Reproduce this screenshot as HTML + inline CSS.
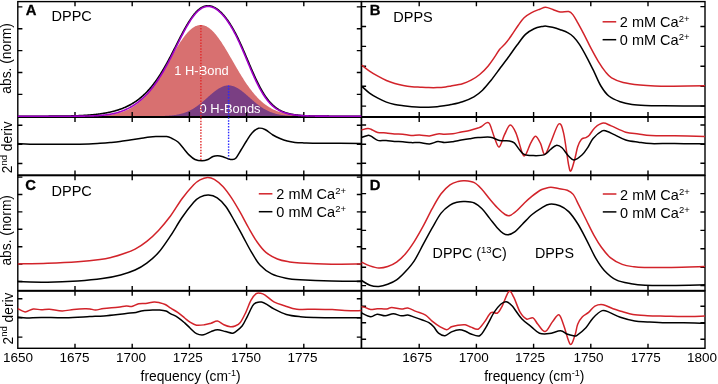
<!DOCTYPE html>
<html><head><meta charset="utf-8"><style>html,body{margin:0;padding:0;background:#fff;width:718px;height:384px;overflow:hidden}svg{display:block;will-change:transform}text{font-family:"Liberation Sans", sans-serif}</style></head>
<body><svg width="718" height="384" viewBox="0 0 718 384" ><path d="M17.80,116.20 L18.30,116.20 L18.80,116.20 L19.30,116.20 L19.80,116.20 L20.30,116.20 L20.80,116.20 L21.30,116.20 L21.80,116.20 L22.30,116.20 L22.80,116.20 L23.30,116.20 L23.80,116.20 L24.30,116.20 L24.80,116.20 L25.30,116.20 L25.80,116.20 L26.30,116.20 L26.80,116.20 L27.30,116.20 L27.80,116.20 L28.30,116.20 L28.80,116.20 L29.30,116.20 L29.80,116.20 L30.30,116.20 L30.80,116.20 L31.30,116.20 L31.80,116.20 L32.30,116.20 L32.80,116.20 L33.30,116.20 L33.80,116.20 L34.30,116.20 L34.80,116.20 L35.30,116.20 L35.80,116.20 L36.30,116.20 L36.80,116.20 L37.30,116.20 L37.80,116.20 L38.30,116.20 L38.80,116.20 L39.30,116.20 L39.80,116.20 L40.30,116.20 L40.80,116.20 L41.30,116.20 L41.80,116.20 L42.30,116.20 L42.80,116.20 L43.30,116.20 L43.80,116.20 L44.30,116.20 L44.80,116.20 L45.30,116.20 L45.80,116.20 L46.30,116.20 L46.80,116.20 L47.30,116.20 L47.80,116.20 L48.30,116.20 L48.80,116.20 L49.30,116.20 L49.80,116.20 L50.30,116.20 L50.80,116.20 L51.30,116.20 L51.80,116.20 L52.30,116.20 L52.80,116.20 L53.30,116.20 L53.80,116.20 L54.30,116.20 L54.80,116.20 L55.30,116.20 L55.80,116.20 L56.30,116.20 L56.80,116.20 L57.30,116.20 L57.80,116.20 L58.30,116.20 L58.80,116.20 L59.30,116.20 L59.80,116.20 L60.30,116.19 L60.80,116.19 L61.30,116.19 L61.80,116.19 L62.30,116.19 L62.80,116.19 L63.30,116.19 L63.80,116.19 L64.30,116.19 L64.80,116.19 L65.30,116.19 L65.80,116.19 L66.30,116.19 L66.80,116.19 L67.30,116.19 L67.80,116.19 L68.30,116.18 L68.80,116.18 L69.30,116.18 L69.80,116.18 L70.30,116.18 L70.80,116.18 L71.30,116.18 L71.80,116.18 L72.30,116.17 L72.80,116.17 L73.30,116.17 L73.80,116.17 L74.30,116.17 L74.80,116.16 L75.30,116.16 L75.80,116.16 L76.30,116.16 L76.80,116.15 L77.30,116.15 L77.80,116.15 L78.30,116.15 L78.80,116.14 L79.30,116.14 L79.80,116.13 L80.30,116.13 L80.80,116.13 L81.30,116.12 L81.80,116.12 L82.30,116.11 L82.80,116.11 L83.30,116.10 L83.80,116.10 L84.30,116.09 L84.80,116.08 L85.30,116.08 L85.80,116.07 L86.30,116.06 L86.80,116.05 L87.30,116.04 L87.80,116.03 L88.30,116.03 L88.80,116.02 L89.30,116.00 L89.80,115.99 L90.30,115.98 L90.80,115.97 L91.30,115.96 L91.80,115.94 L92.30,115.93 L92.80,115.91 L93.30,115.90 L93.80,115.88 L94.30,115.87 L94.80,115.85 L95.30,115.83 L95.80,115.81 L96.30,115.79 L96.80,115.77 L97.30,115.74 L97.80,115.72 L98.30,115.69 L98.80,115.67 L99.30,115.64 L99.80,115.61 L100.30,115.58 L100.80,115.55 L101.30,115.52 L101.80,115.48 L102.30,115.45 L102.80,115.41 L103.30,115.37 L103.80,115.33 L104.30,115.29 L104.80,115.24 L105.30,115.20 L105.80,115.15 L106.30,115.10 L106.80,115.04 L107.30,114.99 L107.80,114.93 L108.30,114.87 L108.80,114.81 L109.30,114.75 L109.80,114.68 L110.30,114.61 L110.80,114.54 L111.30,114.46 L111.80,114.38 L112.30,114.30 L112.80,114.22 L113.30,114.13 L113.80,114.04 L114.30,113.94 L114.80,113.85 L115.30,113.74 L115.80,113.64 L116.30,113.53 L116.80,113.41 L117.30,113.30 L117.80,113.18 L118.30,113.05 L118.80,112.92 L119.30,112.78 L119.80,112.64 L120.30,112.50 L120.80,112.35 L121.30,112.19 L121.80,112.03 L122.30,111.87 L122.80,111.70 L123.30,111.52 L123.80,111.34 L124.30,111.15 L124.80,110.96 L125.30,110.76 L125.80,110.55 L126.30,110.34 L126.80,110.12 L127.30,109.89 L127.80,109.66 L128.30,109.42 L128.80,109.17 L129.30,108.92 L129.80,108.66 L130.30,108.39 L130.80,108.11 L131.30,107.83 L131.80,107.54 L132.30,107.24 L132.80,106.93 L133.30,106.61 L133.80,106.29 L134.30,105.96 L134.80,105.62 L135.30,105.27 L135.80,104.91 L136.30,104.54 L136.80,104.17 L137.30,103.78 L137.80,103.39 L138.30,102.98 L138.80,102.57 L139.30,102.15 L139.80,101.71 L140.30,101.27 L140.80,100.82 L141.30,100.36 L141.80,99.89 L142.30,99.41 L142.80,98.92 L143.30,98.42 L143.80,97.91 L144.30,97.38 L144.80,96.85 L145.30,96.31 L145.80,95.76 L146.30,95.20 L146.80,94.63 L147.30,94.05 L147.80,93.46 L148.30,92.86 L148.80,92.25 L149.30,91.63 L149.80,91.00 L150.30,90.36 L150.80,89.71 L151.30,89.05 L151.80,88.38 L152.30,87.70 L152.80,87.01 L153.30,86.31 L153.80,85.61 L154.30,84.89 L154.80,84.17 L155.30,83.43 L155.80,82.69 L156.30,81.94 L156.80,81.18 L157.30,80.42 L157.80,79.64 L158.30,78.86 L158.80,78.08 L159.30,77.28 L159.80,76.48 L160.30,75.67 L160.80,74.86 L161.30,74.03 L161.80,73.21 L162.30,72.38 L162.80,71.54 L163.30,70.70 L163.80,69.85 L164.30,69.00 L164.80,68.15 L165.30,67.29 L165.80,66.43 L166.30,65.57 L166.80,64.71 L167.30,63.84 L167.80,62.97 L168.30,62.10 L168.80,61.23 L169.30,60.36 L169.80,59.49 L170.30,58.62 L170.80,57.76 L171.30,56.89 L171.80,56.03 L172.30,55.17 L172.80,54.31 L173.30,53.45 L173.80,52.60 L174.30,51.75 L174.80,50.91 L175.30,50.08 L175.80,49.24 L176.30,48.42 L176.80,47.60 L177.30,46.79 L177.80,45.99 L178.30,45.20 L178.80,44.41 L179.30,43.63 L179.80,42.87 L180.30,42.11 L180.80,41.37 L181.30,40.63 L181.80,39.91 L182.30,39.20 L182.80,38.50 L183.30,37.82 L183.80,37.14 L184.30,36.49 L184.80,35.84 L185.30,35.21 L185.80,34.60 L186.30,34.00 L186.80,33.42 L187.30,32.86 L187.80,32.31 L188.30,31.78 L188.80,31.27 L189.30,30.77 L189.80,30.30 L190.30,29.84 L190.80,29.40 L191.30,28.98 L191.80,28.58 L192.30,28.20 L192.80,27.84 L193.30,27.50 L193.80,27.18 L194.30,26.89 L194.80,26.61 L195.30,26.35 L195.80,26.12 L196.30,25.91 L196.80,25.72 L197.30,25.55 L197.80,25.40 L198.30,25.28 L198.80,25.18 L199.30,25.10 L199.80,25.05 L200.30,25.01 L200.80,25.00 L201.30,25.01 L201.80,25.05 L202.30,25.10 L202.80,25.18 L203.30,25.28 L203.80,25.40 L204.30,25.55 L204.80,25.72 L205.30,25.91 L205.80,26.12 L206.30,26.35 L206.80,26.61 L207.30,26.89 L207.80,27.18 L208.30,27.50 L208.80,27.84 L209.30,28.20 L209.80,28.58 L210.30,28.98 L210.80,29.40 L211.30,29.84 L211.80,30.30 L212.30,30.77 L212.80,31.27 L213.30,31.78 L213.80,32.31 L214.30,32.86 L214.80,33.42 L215.30,34.00 L215.80,34.60 L216.30,35.21 L216.80,35.84 L217.30,36.49 L217.80,37.14 L218.30,37.82 L218.80,38.50 L219.30,39.20 L219.80,39.91 L220.30,40.63 L220.80,41.37 L221.30,42.11 L221.80,42.87 L222.30,43.63 L222.80,44.41 L223.30,45.20 L223.80,45.99 L224.30,46.79 L224.80,47.60 L225.30,48.42 L225.80,49.24 L226.30,50.08 L226.80,50.91 L227.30,51.75 L227.80,52.60 L228.30,53.45 L228.80,54.31 L229.30,55.17 L229.80,56.03 L230.30,56.89 L230.80,57.76 L231.30,58.62 L231.80,59.49 L232.30,60.36 L232.80,61.23 L233.30,62.10 L233.80,62.97 L234.30,63.84 L234.80,64.71 L235.30,65.57 L235.80,66.43 L236.30,67.29 L236.80,68.15 L237.30,69.00 L237.80,69.85 L238.30,70.70 L238.80,71.54 L239.30,72.38 L239.80,73.21 L240.30,74.03 L240.80,74.86 L241.30,75.67 L241.80,76.48 L242.30,77.28 L242.80,78.08 L243.30,78.86 L243.80,79.64 L244.30,80.42 L244.80,81.18 L245.30,81.94 L245.80,82.69 L246.30,83.43 L246.80,84.17 L247.30,84.89 L247.80,85.61 L248.30,86.31 L248.80,87.01 L249.30,87.70 L249.80,88.38 L250.30,89.05 L250.80,89.71 L251.30,90.36 L251.80,91.00 L252.30,91.63 L252.80,92.25 L253.30,92.86 L253.80,93.46 L254.30,94.05 L254.80,94.63 L255.30,95.20 L255.80,95.76 L256.30,96.31 L256.80,96.85 L257.30,97.38 L257.80,97.91 L258.30,98.42 L258.80,98.92 L259.30,99.41 L259.80,99.89 L260.30,100.36 L260.80,100.82 L261.30,101.27 L261.80,101.71 L262.30,102.15 L262.80,102.57 L263.30,102.98 L263.80,103.39 L264.30,103.78 L264.80,104.17 L265.30,104.54 L265.80,104.91 L266.30,105.27 L266.80,105.62 L267.30,105.96 L267.80,106.29 L268.30,106.61 L268.80,106.93 L269.30,107.24 L269.80,107.54 L270.30,107.83 L270.80,108.11 L271.30,108.39 L271.80,108.66 L272.30,108.92 L272.80,109.17 L273.30,109.42 L273.80,109.66 L274.30,109.89 L274.80,110.12 L275.30,110.34 L275.80,110.55 L276.30,110.76 L276.80,110.96 L277.30,111.15 L277.80,111.34 L278.30,111.52 L278.80,111.70 L279.30,111.87 L279.80,112.03 L280.30,112.19 L280.80,112.35 L281.30,112.50 L281.80,112.64 L282.30,112.78 L282.80,112.92 L283.30,113.05 L283.80,113.18 L284.30,113.30 L284.80,113.41 L285.30,113.53 L285.80,113.64 L286.30,113.74 L286.80,113.85 L287.30,113.94 L287.80,114.04 L288.30,114.13 L288.80,114.22 L289.30,114.30 L289.80,114.38 L290.30,114.46 L290.80,114.54 L291.30,114.61 L291.80,114.68 L292.30,114.75 L292.80,114.81 L293.30,114.87 L293.80,114.93 L294.30,114.99 L294.80,115.04 L295.30,115.10 L295.80,115.15 L296.30,115.20 L296.80,115.24 L297.30,115.29 L297.80,115.33 L298.30,115.37 L298.80,115.41 L299.30,115.45 L299.80,115.48 L300.30,115.52 L300.80,115.55 L301.30,115.58 L301.80,115.61 L302.30,115.64 L302.80,115.67 L303.30,115.69 L303.80,115.72 L304.30,115.74 L304.80,115.77 L305.30,115.79 L305.80,115.81 L306.30,115.83 L306.80,115.85 L307.30,115.87 L307.80,115.88 L308.30,115.90 L308.80,115.91 L309.30,115.93 L309.80,115.94 L310.30,115.96 L310.80,115.97 L311.30,115.98 L311.80,115.99 L312.30,116.00 L312.80,116.02 L313.30,116.03 L313.80,116.03 L314.30,116.04 L314.80,116.05 L315.30,116.06 L315.80,116.07 L316.30,116.08 L316.80,116.08 L317.30,116.09 L317.80,116.10 L318.30,116.10 L318.80,116.11 L319.30,116.11 L319.80,116.12 L320.30,116.12 L320.80,116.13 L321.30,116.13 L321.80,116.13 L322.30,116.14 L322.80,116.14 L323.30,116.15 L323.80,116.15 L324.30,116.15 L324.80,116.15 L325.30,116.16 L325.80,116.16 L326.30,116.16 L326.80,116.16 L327.30,116.17 L327.80,116.17 L328.30,116.17 L328.80,116.17 L329.30,116.17 L329.80,116.18 L330.30,116.18 L330.80,116.18 L331.30,116.18 L331.80,116.18 L332.30,116.18 L332.80,116.18 L333.30,116.18 L333.80,116.19 L334.30,116.19 L334.80,116.19 L335.30,116.19 L335.80,116.19 L336.30,116.19 L336.80,116.19 L337.30,116.19 L337.80,116.19 L338.30,116.19 L338.80,116.19 L339.30,116.19 L339.80,116.19 L340.30,116.19 L340.80,116.19 L341.30,116.19 L341.80,116.20 L342.30,116.20 L342.80,116.20 L343.30,116.20 L343.80,116.20 L344.30,116.20 L344.80,116.20 L345.30,116.20 L345.80,116.20 L346.30,116.20 L346.80,116.20 L347.30,116.20 L347.80,116.20 L348.30,116.20 L348.80,116.20 L349.30,116.20 L349.80,116.20 L350.30,116.20 L350.80,116.20 L351.30,116.20 L351.80,116.20 L352.30,116.20 L352.80,116.20 L353.30,116.20 L353.80,116.20 L354.30,116.20 L354.80,116.20 L355.30,116.20 L355.80,116.20 L356.30,116.20 L356.80,116.20 L357.30,116.20 L357.80,116.20 L358.30,116.20 L358.80,116.20 L359.30,116.20 L359.80,116.20 L360.30,116.20 L360.80,116.20 L361.30,116.20 L361.4,116.2 L17.8,116.2 Z" fill="#d87070"/>
<path d="M17.80,116.20 L18.30,116.20 L18.80,116.20 L19.30,116.20 L19.80,116.20 L20.30,116.20 L20.80,116.20 L21.30,116.20 L21.80,116.20 L22.30,116.20 L22.80,116.20 L23.30,116.20 L23.80,116.20 L24.30,116.20 L24.80,116.20 L25.30,116.20 L25.80,116.20 L26.30,116.20 L26.80,116.20 L27.30,116.20 L27.80,116.20 L28.30,116.20 L28.80,116.20 L29.30,116.20 L29.80,116.20 L30.30,116.20 L30.80,116.20 L31.30,116.20 L31.80,116.20 L32.30,116.20 L32.80,116.20 L33.30,116.20 L33.80,116.20 L34.30,116.20 L34.80,116.20 L35.30,116.20 L35.80,116.20 L36.30,116.20 L36.80,116.20 L37.30,116.20 L37.80,116.20 L38.30,116.20 L38.80,116.20 L39.30,116.20 L39.80,116.20 L40.30,116.20 L40.80,116.20 L41.30,116.20 L41.80,116.20 L42.30,116.20 L42.80,116.20 L43.30,116.20 L43.80,116.20 L44.30,116.20 L44.80,116.20 L45.30,116.20 L45.80,116.20 L46.30,116.20 L46.80,116.20 L47.30,116.20 L47.80,116.20 L48.30,116.20 L48.80,116.20 L49.30,116.20 L49.80,116.20 L50.30,116.20 L50.80,116.20 L51.30,116.20 L51.80,116.20 L52.30,116.20 L52.80,116.20 L53.30,116.20 L53.80,116.20 L54.30,116.20 L54.80,116.20 L55.30,116.20 L55.80,116.20 L56.30,116.20 L56.80,116.20 L57.30,116.20 L57.80,116.20 L58.30,116.20 L58.80,116.20 L59.30,116.20 L59.80,116.20 L60.30,116.20 L60.80,116.20 L61.30,116.20 L61.80,116.20 L62.30,116.20 L62.80,116.20 L63.30,116.20 L63.80,116.20 L64.30,116.20 L64.80,116.20 L65.30,116.20 L65.80,116.20 L66.30,116.20 L66.80,116.20 L67.30,116.20 L67.80,116.20 L68.30,116.20 L68.80,116.20 L69.30,116.20 L69.80,116.20 L70.30,116.20 L70.80,116.20 L71.30,116.20 L71.80,116.20 L72.30,116.20 L72.80,116.20 L73.30,116.20 L73.80,116.20 L74.30,116.20 L74.80,116.20 L75.30,116.20 L75.80,116.20 L76.30,116.20 L76.80,116.20 L77.30,116.20 L77.80,116.20 L78.30,116.20 L78.80,116.20 L79.30,116.20 L79.80,116.20 L80.30,116.20 L80.80,116.20 L81.30,116.20 L81.80,116.20 L82.30,116.20 L82.80,116.20 L83.30,116.20 L83.80,116.20 L84.30,116.20 L84.80,116.20 L85.30,116.20 L85.80,116.20 L86.30,116.20 L86.80,116.20 L87.30,116.20 L87.80,116.20 L88.30,116.20 L88.80,116.20 L89.30,116.20 L89.80,116.20 L90.30,116.20 L90.80,116.20 L91.30,116.20 L91.80,116.20 L92.30,116.20 L92.80,116.20 L93.30,116.20 L93.80,116.20 L94.30,116.20 L94.80,116.20 L95.30,116.20 L95.80,116.20 L96.30,116.20 L96.80,116.20 L97.30,116.20 L97.80,116.20 L98.30,116.20 L98.80,116.20 L99.30,116.20 L99.80,116.20 L100.30,116.20 L100.80,116.20 L101.30,116.20 L101.80,116.20 L102.30,116.20 L102.80,116.20 L103.30,116.20 L103.80,116.20 L104.30,116.20 L104.80,116.20 L105.30,116.20 L105.80,116.20 L106.30,116.20 L106.80,116.20 L107.30,116.20 L107.80,116.20 L108.30,116.20 L108.80,116.20 L109.30,116.20 L109.80,116.20 L110.30,116.20 L110.80,116.20 L111.30,116.20 L111.80,116.20 L112.30,116.20 L112.80,116.20 L113.30,116.20 L113.80,116.20 L114.30,116.20 L114.80,116.20 L115.30,116.20 L115.80,116.20 L116.30,116.20 L116.80,116.20 L117.30,116.20 L117.80,116.20 L118.30,116.20 L118.80,116.20 L119.30,116.20 L119.80,116.20 L120.30,116.20 L120.80,116.20 L121.30,116.20 L121.80,116.20 L122.30,116.20 L122.80,116.20 L123.30,116.20 L123.80,116.20 L124.30,116.20 L124.80,116.20 L125.30,116.20 L125.80,116.20 L126.30,116.20 L126.80,116.20 L127.30,116.20 L127.80,116.20 L128.30,116.20 L128.80,116.20 L129.30,116.20 L129.80,116.20 L130.30,116.20 L130.80,116.20 L131.30,116.20 L131.80,116.20 L132.30,116.20 L132.80,116.20 L133.30,116.20 L133.80,116.20 L134.30,116.20 L134.80,116.20 L135.30,116.20 L135.80,116.20 L136.30,116.20 L136.80,116.20 L137.30,116.20 L137.80,116.20 L138.30,116.20 L138.80,116.20 L139.30,116.20 L139.80,116.20 L140.30,116.20 L140.80,116.19 L141.30,116.19 L141.80,116.19 L142.30,116.19 L142.80,116.19 L143.30,116.19 L143.80,116.19 L144.30,116.19 L144.80,116.19 L145.30,116.19 L145.80,116.19 L146.30,116.19 L146.80,116.18 L147.30,116.18 L147.80,116.18 L148.30,116.18 L148.80,116.18 L149.30,116.17 L149.80,116.17 L150.30,116.17 L150.80,116.17 L151.30,116.16 L151.80,116.16 L152.30,116.16 L152.80,116.15 L153.30,116.15 L153.80,116.14 L154.30,116.14 L154.80,116.13 L155.30,116.13 L155.80,116.12 L156.30,116.12 L156.80,116.11 L157.30,116.10 L157.80,116.09 L158.30,116.08 L158.80,116.08 L159.30,116.06 L159.80,116.05 L160.30,116.04 L160.80,116.03 L161.30,116.02 L161.80,116.00 L162.30,115.99 L162.80,115.97 L163.30,115.95 L163.80,115.93 L164.30,115.91 L164.80,115.89 L165.30,115.87 L165.80,115.84 L166.30,115.82 L166.80,115.79 L167.30,115.76 L167.80,115.73 L168.30,115.69 L168.80,115.66 L169.30,115.62 L169.80,115.58 L170.30,115.54 L170.80,115.49 L171.30,115.45 L171.80,115.40 L172.30,115.34 L172.80,115.29 L173.30,115.23 L173.80,115.16 L174.30,115.10 L174.80,115.03 L175.30,114.96 L175.80,114.88 L176.30,114.80 L176.80,114.71 L177.30,114.62 L177.80,114.53 L178.30,114.43 L178.80,114.33 L179.30,114.22 L179.80,114.11 L180.30,113.99 L180.80,113.87 L181.30,113.74 L181.80,113.60 L182.30,113.46 L182.80,113.31 L183.30,113.16 L183.80,113.00 L184.30,112.84 L184.80,112.67 L185.30,112.49 L185.80,112.30 L186.30,112.11 L186.80,111.91 L187.30,111.70 L187.80,111.49 L188.30,111.27 L188.80,111.04 L189.30,110.81 L189.80,110.56 L190.30,110.31 L190.80,110.05 L191.30,109.79 L191.80,109.51 L192.30,109.23 L192.80,108.94 L193.30,108.64 L193.80,108.34 L194.30,108.02 L194.80,107.70 L195.30,107.37 L195.80,107.04 L196.30,106.69 L196.80,106.34 L197.30,105.99 L197.80,105.62 L198.30,105.25 L198.80,104.87 L199.30,104.49 L199.80,104.09 L200.30,103.70 L200.80,103.30 L201.30,102.89 L201.80,102.47 L202.30,102.06 L202.80,101.63 L203.30,101.21 L203.80,100.78 L204.30,100.34 L204.80,99.91 L205.30,99.47 L205.80,99.03 L206.30,98.59 L206.80,98.14 L207.30,97.70 L207.80,97.25 L208.30,96.81 L208.80,96.36 L209.30,95.92 L209.80,95.48 L210.30,95.04 L210.80,94.61 L211.30,94.18 L211.80,93.75 L212.30,93.33 L212.80,92.91 L213.30,92.50 L213.80,92.09 L214.30,91.69 L214.80,91.30 L215.30,90.92 L215.80,90.55 L216.30,90.18 L216.80,89.83 L217.30,89.48 L217.80,89.15 L218.30,88.83 L218.80,88.52 L219.30,88.22 L219.80,87.93 L220.30,87.66 L220.80,87.40 L221.30,87.16 L221.80,86.93 L222.30,86.71 L222.80,86.51 L223.30,86.33 L223.80,86.16 L224.30,86.01 L224.80,85.87 L225.30,85.76 L225.80,85.65 L226.30,85.57 L226.80,85.50 L227.30,85.45 L227.80,85.42 L228.30,85.40 L228.80,85.40 L229.30,85.42 L229.80,85.46 L230.30,85.51 L230.80,85.58 L231.30,85.67 L231.80,85.78 L232.30,85.90 L232.80,86.04 L233.30,86.19 L233.80,86.37 L234.30,86.55 L234.80,86.76 L235.30,86.97 L235.80,87.21 L236.30,87.45 L236.80,87.71 L237.30,87.99 L237.80,88.28 L238.30,88.58 L238.80,88.89 L239.30,89.22 L239.80,89.55 L240.30,89.90 L240.80,90.25 L241.30,90.62 L241.80,91.00 L242.30,91.38 L242.80,91.77 L243.30,92.17 L243.80,92.58 L244.30,92.99 L244.80,93.41 L245.30,93.83 L245.80,94.26 L246.30,94.69 L246.80,95.13 L247.30,95.57 L247.80,96.01 L248.30,96.45 L248.80,96.90 L249.30,97.34 L249.80,97.79 L250.30,98.23 L250.80,98.67 L251.30,99.12 L251.80,99.56 L252.30,100.00 L252.80,100.43 L253.30,100.86 L253.80,101.29 L254.30,101.72 L254.80,102.14 L255.30,102.56 L255.80,102.97 L256.30,103.38 L256.80,103.78 L257.30,104.17 L257.80,104.56 L258.30,104.95 L258.80,105.32 L259.30,105.69 L259.80,106.06 L260.30,106.41 L260.80,106.76 L261.30,107.10 L261.80,107.44 L262.30,107.77 L262.80,108.09 L263.30,108.40 L263.80,108.70 L264.30,109.00 L264.80,109.29 L265.30,109.57 L265.80,109.84 L266.30,110.10 L266.80,110.36 L267.30,110.61 L267.80,110.85 L268.30,111.09 L268.80,111.32 L269.30,111.53 L269.80,111.75 L270.30,111.95 L270.80,112.15 L271.30,112.34 L271.80,112.52 L272.30,112.70 L272.80,112.87 L273.30,113.04 L273.80,113.19 L274.30,113.34 L274.80,113.49 L275.30,113.63 L275.80,113.76 L276.30,113.89 L276.80,114.01 L277.30,114.13 L277.80,114.24 L278.30,114.35 L278.80,114.45 L279.30,114.55 L279.80,114.64 L280.30,114.73 L280.80,114.81 L281.30,114.89 L281.80,114.97 L282.30,115.04 L282.80,115.11 L283.30,115.18 L283.80,115.24 L284.30,115.30 L284.80,115.35 L285.30,115.41 L285.80,115.46 L286.30,115.50 L286.80,115.55 L287.30,115.59 L287.80,115.63 L288.30,115.67 L288.80,115.70 L289.30,115.73 L289.80,115.77 L290.30,115.79 L290.80,115.82 L291.30,115.85 L291.80,115.87 L292.30,115.90 L292.80,115.92 L293.30,115.94 L293.80,115.96 L294.30,115.97 L294.80,115.99 L295.30,116.00 L295.80,116.02 L296.30,116.03 L296.80,116.04 L297.30,116.06 L297.80,116.07 L298.30,116.08 L298.80,116.09 L299.30,116.10 L299.80,116.10 L300.30,116.11 L300.80,116.12 L301.30,116.12 L301.80,116.13 L302.30,116.14 L302.80,116.14 L303.30,116.15 L303.80,116.15 L304.30,116.15 L304.80,116.16 L305.30,116.16 L305.80,116.16 L306.30,116.17 L306.80,116.17 L307.30,116.17 L307.80,116.18 L308.30,116.18 L308.80,116.18 L309.30,116.18 L309.80,116.18 L310.30,116.18 L310.80,116.19 L311.30,116.19 L311.80,116.19 L312.30,116.19 L312.80,116.19 L313.30,116.19 L313.80,116.19 L314.30,116.19 L314.80,116.19 L315.30,116.19 L315.80,116.19 L316.30,116.20 L316.80,116.20 L317.30,116.20 L317.80,116.20 L318.30,116.20 L318.80,116.20 L319.30,116.20 L319.80,116.20 L320.30,116.20 L320.80,116.20 L321.30,116.20 L321.80,116.20 L322.30,116.20 L322.80,116.20 L323.30,116.20 L323.80,116.20 L324.30,116.20 L324.80,116.20 L325.30,116.20 L325.80,116.20 L326.30,116.20 L326.80,116.20 L327.30,116.20 L327.80,116.20 L328.30,116.20 L328.80,116.20 L329.30,116.20 L329.80,116.20 L330.30,116.20 L330.80,116.20 L331.30,116.20 L331.80,116.20 L332.30,116.20 L332.80,116.20 L333.30,116.20 L333.80,116.20 L334.30,116.20 L334.80,116.20 L335.30,116.20 L335.80,116.20 L336.30,116.20 L336.80,116.20 L337.30,116.20 L337.80,116.20 L338.30,116.20 L338.80,116.20 L339.30,116.20 L339.80,116.20 L340.30,116.20 L340.80,116.20 L341.30,116.20 L341.80,116.20 L342.30,116.20 L342.80,116.20 L343.30,116.20 L343.80,116.20 L344.30,116.20 L344.80,116.20 L345.30,116.20 L345.80,116.20 L346.30,116.20 L346.80,116.20 L347.30,116.20 L347.80,116.20 L348.30,116.20 L348.80,116.20 L349.30,116.20 L349.80,116.20 L350.30,116.20 L350.80,116.20 L351.30,116.20 L351.80,116.20 L352.30,116.20 L352.80,116.20 L353.30,116.20 L353.80,116.20 L354.30,116.20 L354.80,116.20 L355.30,116.20 L355.80,116.20 L356.30,116.20 L356.80,116.20 L357.30,116.20 L357.80,116.20 L358.30,116.20 L358.80,116.20 L359.30,116.20 L359.80,116.20 L360.30,116.20 L360.80,116.20 L361.30,116.20 L361.4,116.2 L17.8,116.2 Z" fill="#7a3f83"/>
<rect x="17.8" y="1.6" width="343.59999999999997" height="115.10000000000001" fill="none" stroke="#000" stroke-width="1.4"/><path d="M17.8,6.90h4.6M361.4,6.90h-4.6M17.8,28.78h4.6M361.4,28.78h-4.6M17.8,50.66h4.6M361.4,50.66h-4.6M17.8,72.54h4.6M361.4,72.54h-4.6M17.8,94.42h4.6M361.4,94.42h-4.6M75.00,1.6v4.6M75.00,116.7v-4.6M132.20,1.6v4.6M132.20,116.7v-4.6M189.40,1.6v4.6M189.40,116.7v-4.6M246.60,1.6v4.6M246.60,116.7v-4.6M303.80,1.6v4.6M303.80,116.7v-4.6" stroke="#000" stroke-width="1.4" fill="none"/>
<rect x="17.8" y="117.3" width="343.59999999999997" height="57.7" fill="none" stroke="#000" stroke-width="1.4"/><path d="M17.8,125.20h4.6M361.4,125.20h-4.6M17.8,144.30h4.6M361.4,144.30h-4.6M17.8,163.50h4.6M361.4,163.50h-4.6M75.00,117.3v4.6M75.00,175.0v-4.6M132.20,117.3v4.6M132.20,175.0v-4.6M189.40,117.3v4.6M189.40,175.0v-4.6M246.60,117.3v4.6M246.60,175.0v-4.6M303.80,117.3v4.6M303.80,175.0v-4.6" stroke="#000" stroke-width="1.4" fill="none"/>
<rect x="361.5" y="1.6" width="343.5" height="115.10000000000001" fill="none" stroke="#000" stroke-width="1.4"/><path d="M361.5,6.60h4.6M705.0,6.60h-4.6M361.5,26.50h4.6M705.0,26.50h-4.6M361.5,46.40h4.6M705.0,46.40h-4.6M361.5,66.30h4.6M705.0,66.30h-4.6M361.5,86.20h4.6M705.0,86.20h-4.6M361.5,106.10h4.6M705.0,106.10h-4.6M419.20,1.6v4.6M419.20,116.7v-4.6M476.40,1.6v4.6M476.40,116.7v-4.6M533.60,1.6v4.6M533.60,116.7v-4.6M590.80,1.6v4.6M590.80,116.7v-4.6M648.00,1.6v4.6M648.00,116.7v-4.6" stroke="#000" stroke-width="1.4" fill="none"/>
<rect x="361.5" y="117.3" width="343.5" height="57.7" fill="none" stroke="#000" stroke-width="1.4"/><path d="M361.5,125.00h4.6M705.0,125.00h-4.6M361.5,144.20h4.6M705.0,144.20h-4.6M361.5,163.30h4.6M705.0,163.30h-4.6M419.20,117.3v4.6M419.20,175.0v-4.6M476.40,117.3v4.6M476.40,175.0v-4.6M533.60,117.3v4.6M533.60,175.0v-4.6M590.80,117.3v4.6M590.80,175.0v-4.6M648.00,117.3v4.6M648.00,175.0v-4.6" stroke="#000" stroke-width="1.4" fill="none"/>
<rect x="17.8" y="175.6" width="343.59999999999997" height="114.9" fill="none" stroke="#000" stroke-width="1.4"/><path d="M17.8,177.10h4.6M361.4,177.10h-4.6M17.8,194.50h4.6M361.4,194.50h-4.6M17.8,211.90h4.6M361.4,211.90h-4.6M17.8,229.30h4.6M361.4,229.30h-4.6M17.8,246.70h4.6M361.4,246.70h-4.6M17.8,264.10h4.6M361.4,264.10h-4.6M17.8,281.50h4.6M361.4,281.50h-4.6M75.00,175.6v4.6M75.00,290.5v-4.6M132.20,175.6v4.6M132.20,290.5v-4.6M189.40,175.6v4.6M189.40,290.5v-4.6M246.60,175.6v4.6M246.60,290.5v-4.6M303.80,175.6v4.6M303.80,290.5v-4.6" stroke="#000" stroke-width="1.4" fill="none"/>
<rect x="17.8" y="291.1" width="343.59999999999997" height="57.19999999999999" fill="none" stroke="#000" stroke-width="1.4"/><path d="M17.8,298.70h4.6M361.4,298.70h-4.6M17.8,317.90h4.6M361.4,317.90h-4.6M17.8,337.10h4.6M361.4,337.10h-4.6M75.00,291.1v4.6M75.00,348.3v-4.6M132.20,291.1v4.6M132.20,348.3v-4.6M189.40,291.1v4.6M189.40,348.3v-4.6M246.60,291.1v4.6M246.60,348.3v-4.6M303.80,291.1v4.6M303.80,348.3v-4.6" stroke="#000" stroke-width="1.4" fill="none"/>
<rect x="361.5" y="175.6" width="343.5" height="114.9" fill="none" stroke="#000" stroke-width="1.4"/><path d="M361.5,193.60h4.6M705.0,193.60h-4.6M361.5,212.00h4.6M705.0,212.00h-4.6M361.5,230.40h4.6M705.0,230.40h-4.6M361.5,248.80h4.6M705.0,248.80h-4.6M361.5,267.20h4.6M705.0,267.20h-4.6M361.5,285.60h4.6M705.0,285.60h-4.6M419.20,175.6v4.6M419.20,290.5v-4.6M476.40,175.6v4.6M476.40,290.5v-4.6M533.60,175.6v4.6M533.60,290.5v-4.6M590.80,175.6v4.6M590.80,290.5v-4.6M648.00,175.6v4.6M648.00,290.5v-4.6" stroke="#000" stroke-width="1.4" fill="none"/>
<rect x="361.5" y="291.1" width="343.5" height="57.19999999999999" fill="none" stroke="#000" stroke-width="1.4"/><path d="M361.5,306.20h4.6M705.0,306.20h-4.6M361.5,322.70h4.6M705.0,322.70h-4.6M361.5,339.20h4.6M705.0,339.20h-4.6M419.20,291.1v4.6M419.20,348.3v-4.6M476.40,291.1v4.6M476.40,348.3v-4.6M533.60,291.1v4.6M533.60,348.3v-4.6M590.80,291.1v4.6M590.80,348.3v-4.6M648.00,291.1v4.6M648.00,348.3v-4.6" stroke="#000" stroke-width="1.4" fill="none"/>
<path d="M17.80,116.20 L18.30,116.20 L18.80,116.20 L19.30,116.20 L19.80,116.20 L20.30,116.20 L20.80,116.20 L21.30,116.20 L21.80,116.20 L22.30,116.20 L22.80,116.20 L23.30,116.20 L23.80,116.20 L24.30,116.20 L24.80,116.20 L25.30,116.20 L25.80,116.20 L26.30,116.20 L26.80,116.20 L27.30,116.20 L27.80,116.20 L28.30,116.20 L28.80,116.20 L29.30,116.20 L29.80,116.20 L30.30,116.20 L30.80,116.20 L31.30,116.20 L31.80,116.20 L32.30,116.20 L32.80,116.20 L33.30,116.20 L33.80,116.20 L34.30,116.20 L34.80,116.20 L35.30,116.20 L35.80,116.20 L36.30,116.20 L36.80,116.20 L37.30,116.19 L37.80,116.19 L38.30,116.19 L38.80,116.19 L39.30,116.19 L39.80,116.19 L40.30,116.19 L40.80,116.19 L41.30,116.19 L41.80,116.19 L42.30,116.19 L42.80,116.19 L43.30,116.19 L43.80,116.19 L44.30,116.19 L44.80,116.18 L45.30,116.18 L45.80,116.18 L46.30,116.18 L46.80,116.18 L47.30,116.18 L47.80,116.18 L48.30,116.18 L48.80,116.17 L49.30,116.17 L49.80,116.17 L50.30,116.17 L50.80,116.17 L51.30,116.17 L51.80,116.16 L52.30,116.16 L52.80,116.16 L53.30,116.16 L53.80,116.15 L54.30,116.15 L54.80,116.15 L55.30,116.15 L55.80,116.14 L56.30,116.14 L56.80,116.14 L57.30,116.13 L57.80,116.13 L58.30,116.12 L58.80,116.12 L59.30,116.11 L59.80,116.11 L60.30,116.11 L60.80,116.10 L61.30,116.09 L61.80,116.09 L62.30,116.08 L62.80,116.08 L63.30,116.07 L63.80,116.06 L64.30,116.06 L64.80,116.05 L65.30,116.04 L65.80,116.03 L66.30,116.03 L66.80,116.02 L67.30,116.01 L67.80,116.00 L68.30,115.99 L68.80,115.98 L69.30,115.97 L69.80,115.96 L70.30,115.94 L70.80,115.93 L71.30,115.92 L71.80,115.91 L72.30,115.89 L72.80,115.88 L73.30,115.87 L73.80,115.85 L74.30,115.84 L74.80,115.82 L75.30,115.80 L75.80,115.79 L76.30,115.77 L76.80,115.75 L77.30,115.73 L77.80,115.71 L78.30,115.69 L78.80,115.67 L79.30,115.65 L79.80,115.63 L80.30,115.60 L80.80,115.58 L81.30,115.56 L81.80,115.53 L82.30,115.50 L82.80,115.48 L83.30,115.45 L83.80,115.42 L84.30,115.39 L84.80,115.36 L85.30,115.33 L85.80,115.30 L86.30,115.27 L86.80,115.23 L87.30,115.20 L87.80,115.16 L88.30,115.12 L88.80,115.09 L89.30,115.05 L89.80,115.01 L90.30,114.96 L90.80,114.92 L91.30,114.88 L91.80,114.83 L92.30,114.79 L92.80,114.74 L93.30,114.69 L93.80,114.64 L94.30,114.59 L94.80,114.54 L95.30,114.49 L95.80,114.43 L96.30,114.37 L96.80,114.32 L97.30,114.26 L97.80,114.19 L98.30,114.13 L98.80,114.07 L99.30,114.00 L99.80,113.93 L100.30,113.86 L100.80,113.79 L101.30,113.72 L101.80,113.65 L102.30,113.57 L102.80,113.49 L103.30,113.41 L103.80,113.33 L104.30,113.24 L104.80,113.16 L105.30,113.07 L105.80,112.98 L106.30,112.89 L106.80,112.79 L107.30,112.69 L107.80,112.59 L108.30,112.49 L108.80,112.39 L109.30,112.28 L109.80,112.17 L110.30,112.06 L110.80,111.95 L111.30,111.83 L111.80,111.71 L112.30,111.58 L112.80,111.46 L113.30,111.33 L113.80,111.20 L114.30,111.06 L114.80,110.92 L115.30,110.78 L115.80,110.64 L116.30,110.49 L116.80,110.34 L117.30,110.19 L117.80,110.03 L118.30,109.87 L118.80,109.70 L119.30,109.53 L119.80,109.36 L120.30,109.18 L120.80,109.00 L121.30,108.82 L121.80,108.63 L122.30,108.43 L122.80,108.24 L123.30,108.03 L123.80,107.83 L124.30,107.62 L124.80,107.40 L125.30,107.18 L125.80,106.96 L126.30,106.73 L126.80,106.50 L127.30,106.26 L127.80,106.01 L128.30,105.76 L128.80,105.51 L129.30,105.25 L129.80,104.98 L130.30,104.71 L130.80,104.43 L131.30,104.15 L131.80,103.86 L132.30,103.57 L132.80,103.27 L133.30,102.96 L133.80,102.65 L134.30,102.33 L134.80,102.01 L135.30,101.67 L135.80,101.34 L136.30,100.99 L136.80,100.64 L137.30,100.28 L137.80,99.91 L138.30,99.54 L138.80,99.16 L139.30,98.77 L139.80,98.37 L140.30,97.97 L140.80,97.56 L141.30,97.14 L141.80,96.71 L142.30,96.27 L142.80,95.83 L143.30,95.38 L143.80,94.92 L144.30,94.45 L144.80,93.97 L145.30,93.48 L145.80,92.99 L146.30,92.48 L146.80,91.97 L147.30,91.45 L147.80,90.91 L148.30,90.37 L148.80,89.82 L149.30,89.26 L149.80,88.69 L150.30,88.11 L150.80,87.51 L151.30,86.91 L151.80,86.30 L152.30,85.68 L152.80,85.05 L153.30,84.41 L153.80,83.76 L154.30,83.10 L154.80,82.42 L155.30,81.74 L155.80,81.05 L156.30,80.34 L156.80,79.63 L157.30,78.91 L157.80,78.17 L158.30,77.43 L158.80,76.67 L159.30,75.91 L159.80,75.13 L160.30,74.35 L160.80,73.55 L161.30,72.74 L161.80,71.93 L162.30,71.10 L162.80,70.27 L163.30,69.43 L163.80,68.57 L164.30,67.71 L164.80,66.84 L165.30,65.96 L165.80,65.07 L166.30,64.18 L166.80,63.27 L167.30,62.36 L167.80,61.44 L168.30,60.52 L168.80,59.58 L169.30,58.64 L169.80,57.70 L170.30,56.75 L170.80,55.79 L171.30,54.83 L171.80,53.86 L172.30,52.89 L172.80,51.92 L173.30,50.94 L173.80,49.96 L174.30,48.98 L174.80,48.00 L175.30,47.01 L175.80,46.02 L176.30,45.04 L176.80,44.05 L177.30,43.06 L177.80,42.08 L178.30,41.10 L178.80,40.12 L179.30,39.14 L179.80,38.16 L180.30,37.19 L180.80,36.23 L181.30,35.27 L181.80,34.31 L182.30,33.37 L182.80,32.43 L183.30,31.49 L183.80,30.57 L184.30,29.65 L184.80,28.75 L185.30,27.85 L185.80,26.97 L186.30,26.09 L186.80,25.23 L187.30,24.38 L187.80,23.55 L188.30,22.73 L188.80,21.92 L189.30,21.13 L189.80,20.35 L190.30,19.59 L190.80,18.84 L191.30,18.11 L191.80,17.40 L192.30,16.71 L192.80,16.04 L193.30,15.38 L193.80,14.74 L194.30,14.13 L194.80,13.53 L195.30,12.95 L195.80,12.40 L196.30,11.86 L196.80,11.35 L197.30,10.86 L197.80,10.39 L198.30,9.94 L198.80,9.51 L199.30,9.11 L199.80,8.73 L200.30,8.37 L200.80,8.03 L201.30,7.72 L201.80,7.43 L202.30,7.17 L202.80,6.92 L203.30,6.70 L203.80,6.50 L204.30,6.33 L204.80,6.18 L205.30,6.05 L205.80,5.94 L206.30,5.86 L206.80,5.79 L207.30,5.75 L207.80,5.73 L208.30,5.74 L208.80,5.76 L209.30,5.81 L209.80,5.88 L210.30,5.96 L210.80,6.07 L211.30,6.20 L211.80,6.35 L212.30,6.52 L212.80,6.71 L213.30,6.92 L213.80,7.14 L214.30,7.39 L214.80,7.65 L215.30,7.94 L215.80,8.24 L216.30,8.55 L216.80,8.89 L217.30,9.25 L217.80,9.62 L218.30,10.00 L218.80,10.41 L219.30,10.83 L219.80,11.27 L220.30,11.73 L220.80,12.20 L221.30,12.69 L221.80,13.19 L222.30,13.71 L222.80,14.25 L223.30,14.80 L223.80,15.37 L224.30,15.96 L224.80,16.56 L225.30,17.18 L225.80,17.82 L226.30,18.47 L226.80,19.13 L227.30,19.82 L227.80,20.52 L228.30,21.23 L228.80,21.97 L229.30,22.72 L229.80,23.48 L230.30,24.26 L230.80,25.06 L231.30,25.88 L231.80,26.71 L232.30,27.56 L232.80,28.42 L233.30,29.30 L233.80,30.20 L234.30,31.11 L234.80,32.04 L235.30,32.98 L235.80,33.94 L236.30,34.92 L236.80,35.91 L237.30,36.91 L237.80,37.93 L238.30,38.97 L238.80,40.01 L239.30,41.07 L239.80,42.14 L240.30,43.23 L240.80,44.32 L241.30,45.43 L241.80,46.55 L242.30,47.67 L242.80,48.81 L243.30,49.95 L243.80,51.10 L244.30,52.26 L244.80,53.42 L245.30,54.59 L245.80,55.77 L246.30,56.94 L246.80,58.12 L247.30,59.30 L247.80,60.49 L248.30,61.67 L248.80,62.85 L249.30,64.03 L249.80,65.20 L250.30,66.38 L250.80,67.54 L251.30,68.71 L251.80,69.86 L252.30,71.01 L252.80,72.15 L253.30,73.28 L253.80,74.41 L254.30,75.52 L254.80,76.62 L255.30,77.71 L255.80,78.78 L256.30,79.84 L256.80,80.89 L257.30,81.93 L257.80,82.95 L258.30,83.95 L258.80,84.93 L259.30,85.90 L259.80,86.86 L260.30,87.79 L260.80,88.71 L261.30,89.61 L261.80,90.49 L262.30,91.35 L262.80,92.20 L263.30,93.02 L263.80,93.83 L264.30,94.61 L264.80,95.38 L265.30,96.12 L265.80,96.85 L266.30,97.56 L266.80,98.25 L267.30,98.92 L267.80,99.57 L268.30,100.20 L268.80,100.82 L269.30,101.41 L269.80,101.99 L270.30,102.55 L270.80,103.09 L271.30,103.61 L271.80,104.12 L272.30,104.61 L272.80,105.08 L273.30,105.54 L273.80,105.98 L274.30,106.40 L274.80,106.81 L275.30,107.21 L275.80,107.59 L276.30,107.96 L276.80,108.31 L277.30,108.65 L277.80,108.98 L278.30,109.29 L278.80,109.60 L279.30,109.89 L279.80,110.16 L280.30,110.43 L280.80,110.69 L281.30,110.94 L281.80,111.17 L282.30,111.40 L282.80,111.62 L283.30,111.83 L283.80,112.03 L284.30,112.22 L284.80,112.40 L285.30,112.58 L285.80,112.74 L286.30,112.91 L286.80,113.06 L287.30,113.21 L287.80,113.35 L288.30,113.48 L288.80,113.61 L289.30,113.73 L289.80,113.85 L290.30,113.97 L290.80,114.07 L291.30,114.18 L291.80,114.27 L292.30,114.37 L292.80,114.46 L293.30,114.54 L293.80,114.62 L294.30,114.70 L294.80,114.78 L295.30,114.85 L295.80,114.91 L296.30,114.98 L296.80,115.04 L297.30,115.10 L297.80,115.15 L298.30,115.21 L298.80,115.26 L299.30,115.31 L299.80,115.35 L300.30,115.40 L300.80,115.44 L301.30,115.48 L301.80,115.51 L302.30,115.55 L302.80,115.58 L303.30,115.62 L303.80,115.65 L304.30,115.68 L304.80,115.71 L305.30,115.73 L305.80,115.76 L306.30,115.78 L306.80,115.80 L307.30,115.83 L307.80,115.85 L308.30,115.87 L308.80,115.88 L309.30,115.90 L309.80,115.92 L310.30,115.93 L310.80,115.95 L311.30,115.96 L311.80,115.98 L312.30,115.99 L312.80,116.00 L313.30,116.01 L313.80,116.02 L314.30,116.03 L314.80,116.04 L315.30,116.05 L315.80,116.06 L316.30,116.07 L316.80,116.08 L317.30,116.08 L317.80,116.09 L318.30,116.10 L318.80,116.10 L319.30,116.11 L319.80,116.12 L320.30,116.12 L320.80,116.13 L321.30,116.13 L321.80,116.13 L322.30,116.14 L322.80,116.14 L323.30,116.15 L323.80,116.15 L324.30,116.15 L324.80,116.16 L325.30,116.16 L325.80,116.16 L326.30,116.16 L326.80,116.17 L327.30,116.17 L327.80,116.17 L328.30,116.17 L328.80,116.17 L329.30,116.18 L329.80,116.18 L330.30,116.18 L330.80,116.18 L331.30,116.18 L331.80,116.18 L332.30,116.18 L332.80,116.18 L333.30,116.19 L333.80,116.19 L334.30,116.19 L334.80,116.19 L335.30,116.19 L335.80,116.19 L336.30,116.19 L336.80,116.19 L337.30,116.19 L337.80,116.19 L338.30,116.19 L338.80,116.19 L339.30,116.19 L339.80,116.19 L340.30,116.19 L340.80,116.20 L341.30,116.20 L341.80,116.20 L342.30,116.20 L342.80,116.20 L343.30,116.20 L343.80,116.20 L344.30,116.20 L344.80,116.20 L345.30,116.20 L345.80,116.20 L346.30,116.20 L346.80,116.20 L347.30,116.20 L347.80,116.20 L348.30,116.20 L348.80,116.20 L349.30,116.20 L349.80,116.20 L350.30,116.20 L350.80,116.20 L351.30,116.20 L351.80,116.20 L352.30,116.20 L352.80,116.20 L353.30,116.20 L353.80,116.20 L354.30,116.20 L354.80,116.20 L355.30,116.20 L355.80,116.20 L356.30,116.20 L356.80,116.20 L357.30,116.20 L357.80,116.20 L358.30,116.20 L358.80,116.20 L359.30,116.20 L359.80,116.20 L360.30,116.20 L360.80,116.20 L361.30,116.20" fill="none" stroke="#000" stroke-width="1.6"/>
<path d="M17.80,116.20 L18.30,116.20 L18.80,116.20 L19.30,116.20 L19.80,116.20 L20.30,116.20 L20.80,116.20 L21.30,116.20 L21.80,116.20 L22.30,116.20 L22.80,116.20 L23.30,116.20 L23.80,116.20 L24.30,116.20 L24.80,116.20 L25.30,116.20 L25.80,116.20 L26.30,116.20 L26.80,116.20 L27.30,116.20 L27.80,116.20 L28.30,116.20 L28.80,116.20 L29.30,116.20 L29.80,116.20 L30.30,116.20 L30.80,116.20 L31.30,116.20 L31.80,116.20 L32.30,116.20 L32.80,116.20 L33.30,116.20 L33.80,116.20 L34.30,116.20 L34.80,116.20 L35.30,116.20 L35.80,116.20 L36.30,116.20 L36.80,116.20 L37.30,116.20 L37.80,116.20 L38.30,116.20 L38.80,116.20 L39.30,116.20 L39.80,116.20 L40.30,116.20 L40.80,116.20 L41.30,116.20 L41.80,116.20 L42.30,116.20 L42.80,116.20 L43.30,116.20 L43.80,116.20 L44.30,116.20 L44.80,116.20 L45.30,116.20 L45.80,116.20 L46.30,116.20 L46.80,116.20 L47.30,116.20 L47.80,116.20 L48.30,116.20 L48.80,116.20 L49.30,116.20 L49.80,116.20 L50.30,116.20 L50.80,116.20 L51.30,116.20 L51.80,116.20 L52.30,116.20 L52.80,116.20 L53.30,116.20 L53.80,116.20 L54.30,116.20 L54.80,116.20 L55.30,116.20 L55.80,116.20 L56.30,116.20 L56.80,116.20 L57.30,116.20 L57.80,116.20 L58.30,116.20 L58.80,116.20 L59.30,116.20 L59.80,116.20 L60.30,116.20 L60.80,116.20 L61.30,116.20 L61.80,116.20 L62.30,116.20 L62.80,116.20 L63.30,116.20 L63.80,116.19 L64.30,116.19 L64.80,116.19 L65.30,116.19 L65.80,116.19 L66.30,116.19 L66.80,116.19 L67.30,116.19 L67.80,116.19 L68.30,116.19 L68.80,116.19 L69.30,116.19 L69.80,116.19 L70.30,116.19 L70.80,116.18 L71.30,116.18 L71.80,116.18 L72.30,116.18 L72.80,116.18 L73.30,116.18 L73.80,116.17 L74.30,116.17 L74.80,116.17 L75.30,116.17 L75.80,116.17 L76.30,116.16 L76.80,116.16 L77.30,116.16 L77.80,116.15 L78.30,116.15 L78.80,116.15 L79.30,116.14 L79.80,116.14 L80.30,116.14 L80.80,116.13 L81.30,116.13 L81.80,116.12 L82.30,116.11 L82.80,116.11 L83.30,116.10 L83.80,116.10 L84.30,116.09 L84.80,116.08 L85.30,116.07 L85.80,116.06 L86.30,116.05 L86.80,116.04 L87.30,116.03 L87.80,116.02 L88.30,116.01 L88.80,116.00 L89.30,115.99 L89.80,115.97 L90.30,115.96 L90.80,115.94 L91.30,115.93 L91.80,115.91 L92.30,115.89 L92.80,115.87 L93.30,115.85 L93.80,115.83 L94.30,115.81 L94.80,115.79 L95.30,115.76 L95.80,115.74 L96.30,115.71 L96.80,115.68 L97.30,115.65 L97.80,115.62 L98.30,115.59 L98.80,115.56 L99.30,115.52 L99.80,115.48 L100.30,115.45 L100.80,115.41 L101.30,115.36 L101.80,115.32 L102.30,115.27 L102.80,115.22 L103.30,115.17 L103.80,115.12 L104.30,115.07 L104.80,115.01 L105.30,114.95 L105.80,114.89 L106.30,114.82 L106.80,114.76 L107.30,114.69 L107.80,114.62 L108.30,114.54 L108.80,114.46 L109.30,114.38 L109.80,114.30 L110.30,114.21 L110.80,114.12 L111.30,114.03 L111.80,113.93 L112.30,113.83 L112.80,113.73 L113.30,113.62 L113.80,113.51 L114.30,113.39 L114.80,113.28 L115.30,113.15 L115.80,113.03 L116.30,112.90 L116.80,112.76 L117.30,112.63 L117.80,112.48 L118.30,112.34 L118.80,112.18 L119.30,112.03 L119.80,111.87 L120.30,111.70 L120.80,111.53 L121.30,111.36 L121.80,111.18 L122.30,110.99 L122.80,110.81 L123.30,110.61 L123.80,110.41 L124.30,110.21 L124.80,110.00 L125.30,109.78 L125.80,109.56 L126.30,109.33 L126.80,109.10 L127.30,108.86 L127.80,108.62 L128.30,108.37 L128.80,108.11 L129.30,107.85 L129.80,107.58 L130.30,107.31 L130.80,107.03 L131.30,106.74 L131.80,106.45 L132.30,106.15 L132.80,105.84 L133.30,105.53 L133.80,105.21 L134.30,104.88 L134.80,104.55 L135.30,104.21 L135.80,103.86 L136.30,103.51 L136.80,103.15 L137.30,102.78 L137.80,102.40 L138.30,102.02 L138.80,101.63 L139.30,101.23 L139.80,100.82 L140.30,100.41 L140.80,99.98 L141.30,99.55 L141.80,99.11 L142.30,98.67 L142.80,98.21 L143.30,97.75 L143.80,97.27 L144.30,96.79 L144.80,96.30 L145.30,95.80 L145.80,95.30 L146.30,94.78 L146.80,94.25 L147.30,93.72 L147.80,93.17 L148.30,92.62 L148.80,92.06 L149.30,91.48 L149.80,90.90 L150.30,90.31 L150.80,89.71 L151.30,89.10 L151.80,88.47 L152.30,87.84 L152.80,87.20 L153.30,86.55 L153.80,85.89 L154.30,85.21 L154.80,84.53 L155.30,83.84 L155.80,83.13 L156.30,82.42 L156.80,81.70 L157.30,80.96 L157.80,80.22 L158.30,79.47 L158.80,78.70 L159.30,77.93 L159.80,77.14 L160.30,76.35 L160.80,75.54 L161.30,74.73 L161.80,73.90 L162.30,73.07 L162.80,72.22 L163.30,71.37 L163.80,70.51 L164.30,69.63 L164.80,68.75 L165.30,67.86 L165.80,66.96 L166.30,66.06 L166.80,65.14 L167.30,64.22 L167.80,63.29 L168.30,62.35 L168.80,61.41 L169.30,60.46 L169.80,59.50 L170.30,58.54 L170.80,57.57 L171.30,56.59 L171.80,55.61 L172.30,54.63 L172.80,53.64 L173.30,52.65 L173.80,51.66 L174.30,50.66 L174.80,49.66 L175.30,48.66 L175.80,47.66 L176.30,46.65 L176.80,45.65 L177.30,44.65 L177.80,43.64 L178.30,42.64 L178.80,41.65 L179.30,40.65 L179.80,39.66 L180.30,38.67 L180.80,37.69 L181.30,36.71 L181.80,35.73 L182.30,34.77 L182.80,33.81 L183.30,32.85 L183.80,31.91 L184.30,30.97 L184.80,30.05 L185.30,29.13 L185.80,28.23 L186.30,27.33 L186.80,26.45 L187.30,25.58 L187.80,24.73 L188.30,23.89 L188.80,23.06 L189.30,22.24 L189.80,21.45 L190.30,20.67 L190.80,19.90 L191.30,19.15 L191.80,18.42 L192.30,17.71 L192.80,17.02 L193.30,16.35 L193.80,15.69 L194.30,15.06 L194.80,14.44 L195.30,13.85 L195.80,13.28 L196.30,12.73 L196.80,12.20 L197.30,11.69 L197.80,11.21 L198.30,10.75 L198.80,10.31 L199.30,9.89 L199.80,9.50 L200.30,9.13 L200.80,8.78 L201.30,8.46 L201.80,8.16 L202.30,7.89 L202.80,7.63 L203.30,7.40 L203.80,7.20 L204.30,7.02 L204.80,6.86 L205.30,6.73 L205.80,6.61 L206.30,6.53 L206.80,6.46 L207.30,6.42 L207.80,6.40 L208.30,6.40 L208.80,6.42 L209.30,6.47 L209.80,6.54 L210.30,6.62 L210.80,6.73 L211.30,6.87 L211.80,7.02 L212.30,7.19 L212.80,7.38 L213.30,7.59 L213.80,7.82 L214.30,8.07 L214.80,8.34 L215.30,8.63 L215.80,8.94 L216.30,9.26 L216.80,9.61 L217.30,9.97 L217.80,10.35 L218.30,10.74 L218.80,11.16 L219.30,11.59 L219.80,12.04 L220.30,12.50 L220.80,12.99 L221.30,13.48 L221.80,14.00 L222.30,14.53 L222.80,15.08 L223.30,15.65 L223.80,16.23 L224.30,16.83 L224.80,17.45 L225.30,18.08 L225.80,18.73 L226.30,19.39 L226.80,20.08 L227.30,20.77 L227.80,21.49 L228.30,22.22 L228.80,22.97 L229.30,23.74 L229.80,24.52 L230.30,25.33 L230.80,26.14 L231.30,26.98 L231.80,27.83 L232.30,28.70 L232.80,29.58 L233.30,30.48 L233.80,31.40 L234.30,32.34 L234.80,33.29 L235.30,34.25 L235.80,35.23 L236.30,36.23 L236.80,37.24 L237.30,38.27 L237.80,39.31 L238.30,40.37 L238.80,41.44 L239.30,42.52 L239.80,43.61 L240.30,44.72 L240.80,45.84 L241.30,46.96 L241.80,48.10 L242.30,49.25 L242.80,50.40 L243.30,51.57 L243.80,52.74 L244.30,53.91 L244.80,55.09 L245.30,56.28 L245.80,57.47 L246.30,58.66 L246.80,59.85 L247.30,61.05 L247.80,62.24 L248.30,63.43 L248.80,64.62 L249.30,65.81 L249.80,66.99 L250.30,68.17 L250.80,69.34 L251.30,70.51 L251.80,71.66 L252.30,72.81 L252.80,73.95 L253.30,75.08 L253.80,76.20 L254.30,77.31 L254.80,78.40 L255.30,79.48 L255.80,80.55 L256.30,81.60 L256.80,82.64 L257.30,83.66 L257.80,84.66 L258.30,85.65 L258.80,86.62 L259.30,87.57 L259.80,88.51 L260.30,89.42 L260.80,90.32 L261.30,91.20 L261.80,92.05 L262.30,92.89 L262.80,93.71 L263.30,94.51 L263.80,95.29 L264.30,96.05 L264.80,96.79 L265.30,97.51 L265.80,98.21 L266.30,98.89 L266.80,99.55 L267.30,100.20 L267.80,100.82 L268.30,101.42 L268.80,102.01 L269.30,102.57 L269.80,103.12 L270.30,103.65 L270.80,104.16 L271.30,104.66 L271.80,105.14 L272.30,105.60 L272.80,106.04 L273.30,106.47 L273.80,106.89 L274.30,107.29 L274.80,107.67 L275.30,108.04 L275.80,108.39 L276.30,108.74 L276.80,109.07 L277.30,109.38 L277.80,109.68 L278.30,109.98 L278.80,110.26 L279.30,110.52 L279.80,110.78 L280.30,111.03 L280.80,111.26 L281.30,111.49 L281.80,111.71 L282.30,111.92 L282.80,112.11 L283.30,112.31 L283.80,112.49 L284.30,112.66 L284.80,112.83 L285.30,112.99 L285.80,113.14 L286.30,113.29 L286.80,113.43 L287.30,113.56 L287.80,113.69 L288.30,113.81 L288.80,113.93 L289.30,114.04 L289.80,114.14 L290.30,114.24 L290.80,114.34 L291.30,114.43 L291.80,114.52 L292.30,114.60 L292.80,114.68 L293.30,114.76 L293.80,114.83 L294.30,114.90 L294.80,114.97 L295.30,115.03 L295.80,115.09 L296.30,115.15 L296.80,115.20 L297.30,115.25 L297.80,115.30 L298.30,115.35 L298.80,115.39 L299.30,115.44 L299.80,115.48 L300.30,115.51 L300.80,115.55 L301.30,115.59 L301.80,115.62 L302.30,115.65 L302.80,115.68 L303.30,115.71 L303.80,115.73 L304.30,115.76 L304.80,115.78 L305.30,115.81 L305.80,115.83 L306.30,115.85 L306.80,115.87 L307.30,115.89 L307.80,115.91 L308.30,115.92 L308.80,115.94 L309.30,115.95 L309.80,115.97 L310.30,115.98 L310.80,115.99 L311.30,116.01 L311.80,116.02 L312.30,116.03 L312.80,116.04 L313.30,116.05 L313.80,116.06 L314.30,116.06 L314.80,116.07 L315.30,116.08 L315.80,116.09 L316.30,116.09 L316.80,116.10 L317.30,116.11 L317.80,116.11 L318.30,116.12 L318.80,116.12 L319.30,116.13 L319.80,116.13 L320.30,116.14 L320.80,116.14 L321.30,116.14 L321.80,116.15 L322.30,116.15 L322.80,116.15 L323.30,116.16 L323.80,116.16 L324.30,116.16 L324.80,116.17 L325.30,116.17 L325.80,116.17 L326.30,116.17 L326.80,116.17 L327.30,116.18 L327.80,116.18 L328.30,116.18 L328.80,116.18 L329.30,116.18 L329.80,116.18 L330.30,116.18 L330.80,116.18 L331.30,116.19 L331.80,116.19 L332.30,116.19 L332.80,116.19 L333.30,116.19 L333.80,116.19 L334.30,116.19 L334.80,116.19 L335.30,116.19 L335.80,116.19 L336.30,116.19 L336.80,116.19 L337.30,116.19 L337.80,116.19 L338.30,116.19 L338.80,116.20 L339.30,116.20 L339.80,116.20 L340.30,116.20 L340.80,116.20 L341.30,116.20 L341.80,116.20 L342.30,116.20 L342.80,116.20 L343.30,116.20 L343.80,116.20 L344.30,116.20 L344.80,116.20 L345.30,116.20 L345.80,116.20 L346.30,116.20 L346.80,116.20 L347.30,116.20 L347.80,116.20 L348.30,116.20 L348.80,116.20 L349.30,116.20 L349.80,116.20 L350.30,116.20 L350.80,116.20 L351.30,116.20 L351.80,116.20 L352.30,116.20 L352.80,116.20 L353.30,116.20 L353.80,116.20 L354.30,116.20 L354.80,116.20 L355.30,116.20 L355.80,116.20 L356.30,116.20 L356.80,116.20 L357.30,116.20 L357.80,116.20 L358.30,116.20 L358.80,116.20 L359.30,116.20 L359.80,116.20 L360.30,116.20 L360.80,116.20 L361.30,116.20" fill="none" stroke="#a000c8" stroke-width="1.6"/>
<path d="M17.80,143.60 C19.83,143.72 24.63,144.18 30.00,144.30 C35.37,144.42 43.33,144.32 50.00,144.30 C56.67,144.28 63.50,144.25 70.00,144.20 C76.50,144.15 84.00,144.15 89.00,144.00 C94.00,143.85 96.50,143.55 100.00,143.30 C103.50,143.05 106.67,142.80 110.00,142.50 C113.33,142.20 116.67,141.92 120.00,141.50 C123.33,141.08 126.67,140.50 130.00,140.00 C133.33,139.50 136.67,139.00 140.00,138.50 C143.33,138.00 147.33,137.32 150.00,137.00 C152.67,136.68 153.22,136.67 156.00,136.60 C158.78,136.53 164.03,136.28 166.70,136.60 C169.37,136.92 170.12,137.60 172.00,138.50 C173.88,139.40 176.00,140.25 178.00,142.00 C180.00,143.75 182.17,146.85 184.00,149.00 C185.83,151.15 187.17,153.15 189.00,154.90 C190.83,156.65 192.83,158.52 195.00,159.50 C197.17,160.48 199.83,160.80 202.00,160.80 C204.17,160.80 206.17,160.22 208.00,159.50 C209.83,158.78 211.38,157.12 213.00,156.50 C214.62,155.88 216.03,155.75 217.70,155.80 C219.37,155.85 221.28,156.32 223.00,156.80 C224.72,157.28 226.48,158.23 228.00,158.70 C229.52,159.17 230.77,159.72 232.10,159.60 C233.43,159.48 234.52,159.60 236.00,158.00 C237.48,156.40 239.25,152.83 241.00,150.00 C242.75,147.17 244.67,143.83 246.50,141.00 C248.33,138.17 250.00,135.12 252.00,133.00 C254.00,130.88 256.33,128.88 258.50,128.30 C260.67,127.72 262.60,128.38 265.00,129.50 C267.40,130.62 270.40,133.50 272.90,135.00 C275.40,136.50 277.62,137.50 280.00,138.50 C282.38,139.50 284.70,140.35 287.20,141.00 C289.70,141.65 292.20,142.08 295.00,142.40 C297.80,142.72 299.83,142.75 304.00,142.90 C308.17,143.05 310.50,143.22 320.00,143.30 C329.50,143.38 354.17,143.38 361.00,143.40" fill="none" stroke="#000" stroke-width="1.5"/>
<path d="M361.80,65.20 C363.08,66.18 366.82,69.27 369.50,71.10 C372.18,72.93 375.08,74.63 377.90,76.20 C380.72,77.77 383.58,79.28 386.40,80.50 C389.22,81.72 391.98,82.67 394.80,83.50 C397.62,84.33 400.47,84.97 403.30,85.50 C406.13,86.03 408.98,86.42 411.80,86.70 C414.62,86.98 417.38,87.05 420.20,87.20 C423.02,87.35 425.88,87.53 428.70,87.60 C431.52,87.67 434.28,87.72 437.10,87.60 C439.92,87.48 443.28,87.17 445.60,86.90 C447.92,86.63 448.18,86.53 451.00,86.00 C453.82,85.47 459.15,84.67 462.50,83.70 C465.85,82.73 468.23,81.73 471.10,80.20 C473.97,78.67 476.85,76.88 479.70,74.50 C482.55,72.12 485.58,69.00 488.20,65.90 C490.82,62.80 493.48,58.67 495.40,55.90 C497.32,53.13 498.03,51.35 499.70,49.30 C501.37,47.25 503.48,45.85 505.40,43.60 C507.32,41.35 509.05,38.87 511.20,35.80 C513.35,32.73 516.15,28.20 518.30,25.20 C520.45,22.20 521.95,19.85 524.10,17.80 C526.25,15.75 528.58,14.33 531.20,12.90 C533.82,11.47 537.40,10.15 539.80,9.20 C542.20,8.25 543.42,7.15 545.60,7.20 C547.78,7.25 550.48,8.70 552.90,9.50 C555.32,10.30 557.47,11.67 560.10,12.00 C562.73,12.33 566.55,11.02 568.70,11.50 C570.85,11.98 571.48,13.00 573.00,14.90 C574.52,16.80 575.97,19.65 577.80,22.90 C579.63,26.15 581.77,30.10 584.00,34.40 C586.23,38.70 588.80,44.17 591.20,48.70 C593.60,53.23 596.05,57.78 598.40,61.60 C600.75,65.42 603.10,68.88 605.30,71.60 C607.50,74.32 608.63,76.08 611.60,77.90 C614.57,79.72 618.37,81.30 623.10,82.50 C627.83,83.70 634.75,84.50 640.00,85.10 C645.25,85.70 649.03,85.90 654.60,86.10 C660.17,86.30 665.00,86.37 673.40,86.30 C681.80,86.23 699.73,85.80 705.00,85.70" fill="none" stroke="#d2232a" stroke-width="1.5"/>
<path d="M361.80,86.40 C363.08,87.52 366.82,91.13 369.50,93.10 C372.18,95.07 375.08,96.70 377.90,98.20 C380.72,99.70 383.58,101.05 386.40,102.10 C389.22,103.15 391.98,103.88 394.80,104.50 C397.62,105.12 400.47,105.43 403.30,105.80 C406.13,106.17 408.98,106.47 411.80,106.70 C414.62,106.93 417.38,107.12 420.20,107.20 C423.02,107.28 425.88,107.28 428.70,107.20 C431.52,107.12 434.28,106.98 437.10,106.70 C439.92,106.42 443.28,105.85 445.60,105.50 C447.92,105.15 448.18,105.23 451.00,104.60 C453.82,103.97 458.68,103.00 462.50,101.70 C466.32,100.40 470.57,98.72 473.90,96.80 C477.23,94.88 479.63,92.97 482.50,90.20 C485.37,87.43 488.23,83.77 491.10,80.20 C493.97,76.63 496.83,72.62 499.70,68.80 C502.57,64.98 505.43,61.22 508.30,57.30 C511.17,53.38 514.03,49.12 516.90,45.30 C519.77,41.48 522.63,37.17 525.50,34.40 C528.37,31.63 531.23,30.03 534.10,28.70 C536.97,27.37 540.63,26.82 542.70,26.40 C544.77,25.98 544.87,26.05 546.50,26.20 C548.13,26.35 550.20,26.72 552.50,27.30 C554.80,27.88 557.70,28.78 560.30,29.70 C562.90,30.62 565.88,31.60 568.10,32.80 C570.32,34.00 571.68,34.93 573.60,36.90 C575.52,38.87 577.40,41.20 579.60,44.60 C581.80,48.00 584.40,52.80 586.80,57.30 C589.20,61.80 591.65,66.82 594.00,71.60 C596.35,76.38 598.43,81.93 600.90,86.00 C603.37,90.07 605.58,93.38 608.80,96.00 C612.02,98.62 616.33,100.28 620.20,101.70 C624.07,103.12 627.83,103.87 632.00,104.50 C636.17,105.13 639.87,105.28 645.20,105.50 C650.53,105.72 654.03,105.72 664.00,105.80 C673.97,105.88 698.17,105.97 705.00,106.00" fill="none" stroke="#000" stroke-width="1.5"/>
<path d="M361.50,130.00 C362.53,129.73 366.12,128.53 367.70,128.40 C369.28,128.27 369.33,128.52 371.00,129.20 C372.67,129.88 375.18,131.88 377.70,132.50 C380.22,133.12 383.32,132.67 386.10,132.90 C388.88,133.13 391.62,133.68 394.40,133.90 C397.18,134.12 400.02,133.95 402.80,134.20 C405.58,134.45 408.32,135.27 411.10,135.40 C413.88,135.53 416.43,134.92 419.50,135.00 C422.57,135.08 426.43,136.08 429.50,135.90 C432.57,135.72 435.38,134.18 437.90,133.90 C440.42,133.62 442.10,134.23 444.60,134.20 C447.10,134.17 450.12,134.07 452.90,133.70 C455.68,133.33 458.52,132.55 461.30,132.00 C464.08,131.45 466.82,131.07 469.60,130.40 C472.38,129.73 476.02,128.65 478.00,128.00 C479.98,127.35 480.10,127.35 481.50,126.50 C482.90,125.65 485.03,123.32 486.40,122.90 C487.77,122.48 488.33,121.48 489.70,124.00 C491.07,126.52 493.02,134.17 494.60,138.00 C496.18,141.83 497.55,147.55 499.20,147.00 C500.85,146.45 502.67,138.38 504.50,134.70 C506.33,131.02 508.28,125.17 510.20,124.90 C512.12,124.63 513.95,128.32 516.00,133.10 C518.05,137.88 520.87,150.05 522.50,153.60 C524.13,157.15 524.42,156.18 525.80,154.40 C527.18,152.62 529.15,145.92 530.80,142.90 C532.45,139.88 534.07,136.17 535.70,136.30 C537.33,136.43 539.10,140.68 540.60,143.70 C542.10,146.72 543.05,154.53 544.70,154.40 C546.35,154.27 548.17,147.97 550.50,142.90 C552.83,137.83 556.52,125.63 558.70,124.00 C560.88,122.37 561.97,126.38 563.60,133.10 C565.23,139.82 567.27,158.02 568.50,164.30 C569.73,170.58 569.90,171.90 571.00,170.80 C572.10,169.70 573.98,161.72 575.10,157.70 C576.22,153.68 576.67,149.75 577.70,146.70 C578.73,143.65 579.93,140.92 581.30,139.40 C582.67,137.88 584.53,138.35 585.90,137.60 C587.27,136.85 588.00,136.55 589.50,134.90 C591.00,133.25 592.63,129.67 594.90,127.70 C597.17,125.73 600.38,123.40 603.10,123.10 C605.82,122.80 607.43,124.38 611.20,125.90 C614.97,127.42 621.17,130.85 625.70,132.20 C630.23,133.55 634.18,133.45 638.40,134.00 C642.62,134.55 644.97,135.20 651.00,135.50 C657.03,135.80 665.60,135.65 674.60,135.80 C683.60,135.95 699.93,136.30 705.00,136.40" fill="none" stroke="#d2232a" stroke-width="1.5"/>
<path d="M361.50,137.50 C362.53,137.15 366.12,135.62 367.70,135.40 C369.28,135.18 369.33,135.37 371.00,136.20 C372.67,137.03 375.18,139.70 377.70,140.40 C380.22,141.10 383.32,140.23 386.10,140.40 C388.88,140.57 391.62,141.18 394.40,141.40 C397.18,141.62 400.02,141.50 402.80,141.70 C405.58,141.90 408.32,142.45 411.10,142.60 C413.88,142.75 416.43,142.38 419.50,142.60 C422.57,142.82 426.43,144.07 429.50,143.90 C432.57,143.73 435.38,141.82 437.90,141.60 C440.42,141.38 442.10,142.58 444.60,142.60 C447.10,142.62 450.12,142.12 452.90,141.70 C455.68,141.28 458.52,140.60 461.30,140.10 C464.08,139.60 466.82,139.12 469.60,138.70 C472.38,138.28 474.52,137.85 478.00,137.60 C481.48,137.35 486.90,136.72 490.50,137.20 C494.10,137.68 496.45,139.88 499.60,140.50 C502.75,141.12 506.95,140.50 509.40,140.90 C511.85,141.30 512.65,141.47 514.30,142.90 C515.95,144.33 517.65,147.58 519.30,149.50 C520.95,151.42 522.02,153.38 524.20,154.40 C526.38,155.42 529.12,155.52 532.40,155.60 C535.68,155.68 540.88,155.92 543.90,154.90 C546.92,153.88 548.45,151.08 550.50,149.50 C552.55,147.92 554.28,145.68 556.20,145.40 C558.12,145.12 559.95,146.03 562.00,147.80 C564.05,149.57 566.50,153.97 568.50,156.00 C570.50,158.03 571.72,160.20 574.00,160.00 C576.28,159.80 579.92,156.87 582.20,154.80 C584.48,152.73 585.88,150.32 587.70,147.60 C589.52,144.88 590.68,141.28 593.10,138.50 C595.52,135.72 599.93,132.10 602.20,130.90 C604.47,129.70 604.60,130.63 606.70,131.30 C608.80,131.97 611.63,133.45 614.80,134.90 C617.97,136.35 621.77,138.78 625.70,140.00 C629.63,141.22 634.18,141.60 638.40,142.20 C642.62,142.80 644.97,143.40 651.00,143.60 C657.03,143.80 665.60,143.33 674.60,143.40 C683.60,143.47 699.93,143.90 705.00,144.00" fill="none" stroke="#000" stroke-width="1.5"/>
<path d="M17.80,263.90 C22.75,263.80 37.48,263.65 47.50,263.30 C57.52,262.95 69.15,262.42 77.90,261.80 C86.65,261.18 94.37,260.35 100.00,259.60 C105.63,258.85 107.80,258.27 111.70,257.30 C115.60,256.33 119.50,255.17 123.40,253.80 C127.30,252.43 131.20,251.17 135.10,249.10 C139.00,247.03 142.90,244.52 146.80,241.40 C150.70,238.28 154.58,234.58 158.50,230.40 C162.42,226.22 166.38,221.58 170.30,216.30 C174.22,211.02 178.10,203.97 182.00,198.70 C185.90,193.43 190.70,187.85 193.70,184.70 C196.70,181.55 197.70,181.02 200.00,179.80 C202.30,178.58 205.12,177.48 207.50,177.40 C209.88,177.32 211.73,177.78 214.30,179.30 C216.87,180.82 220.03,183.40 222.90,186.50 C225.77,189.60 228.63,193.62 231.50,197.90 C234.37,202.18 237.23,207.18 240.10,212.20 C242.97,217.22 245.83,222.98 248.70,228.00 C251.57,233.02 254.43,238.23 257.30,242.30 C260.17,246.37 262.55,249.62 265.90,252.40 C269.25,255.18 273.58,257.43 277.40,259.00 C281.22,260.57 285.03,261.13 288.80,261.80 C292.57,262.47 292.88,262.60 300.00,263.00 C307.12,263.40 321.27,264.03 331.50,264.20 C341.73,264.37 356.42,264.03 361.40,264.00" fill="none" stroke="#d2232a" stroke-width="1.5"/>
<path d="M17.80,281.60 C22.75,281.70 37.48,282.30 47.50,282.20 C57.52,282.10 68.77,281.60 77.90,281.00 C87.03,280.40 95.18,279.62 102.30,278.60 C109.42,277.58 115.13,276.33 120.60,274.90 C126.07,273.47 130.73,271.97 135.10,270.00 C139.47,268.03 142.90,266.00 146.80,263.10 C150.70,260.20 154.58,257.08 158.50,252.60 C162.42,248.12 166.38,242.05 170.30,236.20 C174.22,230.35 178.10,223.17 182.00,217.50 C185.90,211.83 190.70,205.60 193.70,202.20 C196.70,198.80 197.53,198.30 200.00,197.10 C202.47,195.90 205.63,194.87 208.50,195.00 C211.37,195.13 214.32,195.98 217.20,197.90 C220.08,199.82 222.93,202.68 225.80,206.50 C228.67,210.32 231.53,215.78 234.40,220.80 C237.27,225.82 240.13,231.33 243.00,236.60 C245.87,241.87 248.73,247.62 251.60,252.40 C254.47,257.18 256.87,261.72 260.20,265.30 C263.53,268.88 267.30,271.75 271.60,273.90 C275.90,276.05 281.27,277.22 286.00,278.20 C290.73,279.18 292.42,279.32 300.00,279.80 C307.58,280.28 321.27,280.88 331.50,281.10 C341.73,281.32 356.42,281.10 361.40,281.10" fill="none" stroke="#000" stroke-width="1.5"/>
<path d="M17.80,308.70 C19.02,309.23 22.53,311.85 25.10,311.90 C27.67,311.95 30.52,309.35 33.20,309.00 C35.88,308.65 38.52,309.75 41.20,309.80 C43.88,309.85 45.80,309.12 49.30,309.30 C52.80,309.48 58.17,310.87 62.20,310.90 C66.23,310.93 69.73,309.87 73.50,309.50 C77.27,309.13 82.05,308.80 84.80,308.70 C87.55,308.60 88.20,308.68 90.00,308.90 C91.80,309.12 93.28,310.07 95.60,310.00 C97.92,309.93 100.18,308.95 103.90,308.50 C107.62,308.05 114.18,307.70 117.90,307.30 C121.62,306.90 123.88,306.25 126.20,306.10 C128.52,305.95 129.72,306.78 131.80,306.40 C133.88,306.02 136.38,304.30 138.70,303.80 C141.02,303.30 143.13,303.70 145.70,303.40 C148.27,303.10 151.78,302.12 154.10,302.00 C156.42,301.88 157.75,302.28 159.60,302.70 C161.45,303.12 163.33,303.58 165.20,304.50 C167.07,305.42 168.72,306.88 170.80,308.20 C172.88,309.52 175.38,310.77 177.70,312.40 C180.02,314.03 182.65,316.37 184.70,318.00 C186.75,319.63 188.03,321.00 190.00,322.20 C191.97,323.40 194.08,324.77 196.50,325.20 C198.92,325.63 202.08,325.13 204.50,324.80 C206.92,324.47 208.83,323.82 211.00,323.20 C213.17,322.58 215.35,320.83 217.50,321.10 C219.65,321.37 221.75,323.85 223.90,324.80 C226.05,325.75 228.55,326.60 230.40,326.80 C232.25,327.00 233.35,326.72 235.00,326.00 C236.65,325.28 238.53,324.70 240.30,322.50 C242.07,320.30 243.83,316.48 245.60,312.80 C247.37,309.12 249.13,303.58 250.90,300.40 C252.67,297.22 254.58,294.88 256.20,293.70 C257.82,292.52 259.12,293.07 260.60,293.30 C262.08,293.53 262.88,293.68 265.10,295.10 C267.32,296.52 270.67,300.03 273.90,301.80 C277.13,303.57 280.67,304.47 284.50,305.70 C288.33,306.93 291.88,308.62 296.90,309.20 C301.92,309.78 308.70,309.13 314.60,309.20 C320.50,309.27 327.28,309.37 332.30,309.60 C337.32,309.83 339.85,310.43 344.70,310.60 C349.55,310.77 358.62,310.60 361.40,310.60" fill="none" stroke="#d2232a" stroke-width="1.5"/>
<path d="M17.80,317.10 C19.28,317.23 22.80,317.85 26.70,317.90 C30.60,317.95 34.73,317.43 41.20,317.40 C47.67,317.37 57.42,317.83 65.50,317.70 C73.58,317.57 83.30,316.90 89.70,316.60 C96.10,316.30 99.20,316.25 103.90,315.90 C108.60,315.55 114.18,314.92 117.90,314.50 C121.62,314.08 123.18,313.75 126.20,313.40 C129.22,313.05 133.22,312.85 136.00,312.40 C138.78,311.95 140.12,311.10 142.90,310.70 C145.68,310.30 149.92,310.12 152.70,310.00 C155.48,309.88 157.40,309.83 159.60,310.00 C161.80,310.17 164.03,310.37 165.90,311.00 C167.77,311.63 168.83,312.75 170.80,313.80 C172.77,314.85 175.38,315.78 177.70,317.30 C180.02,318.82 182.65,321.12 184.70,322.90 C186.75,324.68 188.03,326.22 190.00,328.00 C191.97,329.78 194.22,332.47 196.50,333.60 C198.78,334.73 201.28,335.13 203.70,334.80 C206.12,334.47 208.70,332.45 211.00,331.60 C213.30,330.75 215.08,329.70 217.50,329.70 C219.92,329.70 223.08,331.02 225.50,331.60 C227.92,332.18 230.42,333.10 232.00,333.20 C233.58,333.30 233.32,333.40 235.00,332.20 C236.68,331.00 240.03,328.65 242.10,326.00 C244.17,323.35 245.63,319.68 247.40,316.30 C249.17,312.92 251.23,307.97 252.70,305.70 C254.17,303.43 254.73,303.30 256.20,302.70 C257.67,302.10 259.73,301.83 261.50,302.10 C263.27,302.37 264.73,303.17 266.80,304.30 C268.87,305.43 270.65,307.20 273.90,308.90 C277.15,310.60 281.88,313.20 286.30,314.50 C290.72,315.80 295.68,316.22 300.40,316.70 C305.12,317.18 307.82,317.23 314.60,317.40 C321.38,317.57 333.30,317.65 341.10,317.70 C348.90,317.75 358.02,317.70 361.40,317.70" fill="none" stroke="#000" stroke-width="1.5"/>
<path d="M361.50,262.10 C362.90,262.73 367.02,264.92 369.90,265.90 C372.78,266.88 375.83,267.90 378.80,268.00 C381.77,268.10 384.73,267.48 387.70,266.50 C390.67,265.52 393.63,264.23 396.60,262.10 C399.57,259.97 402.53,257.17 405.50,253.70 C408.47,250.23 411.43,245.93 414.40,241.30 C417.37,236.67 420.33,231.35 423.30,225.90 C426.27,220.45 429.23,213.95 432.20,208.60 C435.17,203.25 438.13,197.75 441.10,193.80 C444.07,189.85 447.18,186.95 450.00,184.90 C452.82,182.85 455.57,182.18 458.00,181.50 C460.43,180.82 461.88,180.60 464.60,180.80 C467.32,181.00 471.40,181.25 474.30,182.70 C477.20,184.15 479.43,186.77 482.00,189.50 C484.57,192.23 487.13,196.05 489.70,199.10 C492.27,202.15 494.83,205.23 497.40,207.80 C499.97,210.37 503.02,213.22 505.10,214.50 C507.18,215.78 507.97,216.13 509.90,215.50 C511.83,214.87 514.28,212.78 516.70,210.70 C519.12,208.62 521.83,205.42 524.40,203.00 C526.97,200.58 529.53,198.28 532.10,196.20 C534.67,194.12 537.65,191.78 539.80,190.50 C541.95,189.22 543.15,189.03 545.00,188.50 C546.85,187.97 548.67,187.30 550.90,187.30 C553.13,187.30 555.67,188.02 558.40,188.50 C561.13,188.98 564.83,189.22 567.30,190.20 C569.77,191.18 571.23,191.82 573.20,194.40 C575.17,196.98 576.88,201.35 579.10,205.70 C581.32,210.05 584.02,215.57 586.50,220.50 C588.98,225.43 591.52,230.85 594.00,235.30 C596.48,239.75 598.68,243.48 601.40,247.20 C604.12,250.92 606.83,254.73 610.30,257.60 C613.77,260.47 618.25,262.87 622.20,264.40 C626.15,265.93 630.20,266.30 634.00,266.80 C637.80,267.30 638.75,267.30 645.00,267.40 C651.25,267.50 661.50,267.55 671.50,267.40 C681.50,267.25 699.42,266.65 705.00,266.50" fill="none" stroke="#d2232a" stroke-width="1.5"/>
<path d="M361.50,280.50 C362.90,281.28 367.02,284.22 369.90,285.20 C372.78,286.18 375.83,286.55 378.80,286.40 C381.77,286.25 384.73,285.38 387.70,284.30 C390.67,283.22 393.63,282.02 396.60,279.90 C399.57,277.78 402.53,274.82 405.50,271.60 C408.47,268.38 411.43,265.17 414.40,260.60 C417.37,256.03 420.33,249.65 423.30,244.20 C426.27,238.75 429.23,233.08 432.20,227.90 C435.17,222.72 438.13,216.90 441.10,213.10 C444.07,209.30 447.35,206.90 450.00,205.10 C452.65,203.30 454.57,202.88 457.00,202.30 C459.43,201.72 461.72,201.48 464.60,201.60 C467.48,201.72 471.40,201.80 474.30,203.00 C477.20,204.20 479.43,206.23 482.00,208.80 C484.57,211.37 487.13,215.20 489.70,218.40 C492.27,221.60 495.15,225.50 497.40,228.00 C499.65,230.50 501.43,232.27 503.20,233.40 C504.97,234.53 506.08,235.05 508.00,234.80 C509.92,234.55 512.30,233.67 514.70,231.90 C517.10,230.13 519.50,227.10 522.40,224.20 C525.30,221.30 528.88,217.23 532.10,214.50 C535.32,211.77 538.82,209.52 541.70,207.80 C544.58,206.08 546.38,204.55 549.40,204.20 C552.42,203.85 556.58,204.47 559.80,205.70 C563.02,206.93 565.73,208.63 568.70,211.60 C571.67,214.57 574.63,218.80 577.60,223.50 C580.57,228.20 583.53,234.12 586.50,239.80 C589.47,245.48 592.43,252.50 595.40,257.60 C598.37,262.70 600.83,266.68 604.30,270.40 C607.77,274.12 611.73,277.68 616.20,279.90 C620.67,282.12 626.30,282.82 631.10,283.70 C635.90,284.58 638.27,284.92 645.00,285.20 C651.73,285.48 661.50,285.47 671.50,285.40 C681.50,285.33 699.42,284.90 705.00,284.80" fill="none" stroke="#000" stroke-width="1.5"/>
<path d="M361.50,306.60 C361.95,306.68 362.67,306.62 364.20,307.10 C365.73,307.58 368.53,309.23 370.70,309.50 C372.87,309.77 374.52,308.78 377.20,308.70 C379.88,308.62 384.38,309.22 386.80,309.00 C389.22,308.78 389.27,307.40 391.70,307.40 C394.13,307.40 398.72,308.90 401.40,309.00 C404.08,309.10 405.38,307.60 407.80,308.00 C410.22,308.40 412.93,310.22 415.90,311.40 C418.87,312.58 422.90,313.48 425.60,315.10 C428.30,316.72 429.67,319.15 432.10,321.10 C434.53,323.05 437.78,325.37 440.20,326.80 C442.62,328.23 444.72,329.70 446.60,329.70 C448.48,329.70 449.62,327.55 451.50,326.80 C453.38,326.05 455.62,325.53 457.90,325.20 C460.18,324.87 463.02,324.48 465.20,324.80 C467.38,325.12 468.85,326.37 471.00,327.10 C473.15,327.83 475.85,330.07 478.10,329.20 C480.35,328.33 482.35,324.67 484.50,321.90 C486.65,319.13 488.83,314.08 491.00,312.60 C493.17,311.12 495.62,314.13 497.50,313.00 C499.38,311.87 500.42,309.37 502.30,305.80 C504.18,302.23 506.92,293.08 508.80,291.60 C510.68,290.12 511.72,293.47 513.60,296.90 C515.48,300.33 517.95,308.52 520.10,312.20 C522.25,315.88 524.35,318.05 526.50,319.00 C528.65,319.95 531.10,317.02 533.00,317.90 C534.90,318.78 535.88,322.02 537.90,324.30 C539.92,326.58 542.68,332.00 545.10,331.60 C547.52,331.20 550.10,324.72 552.40,321.90 C554.70,319.08 557.02,314.15 558.90,314.70 C560.78,315.25 561.82,320.28 563.70,325.20 C565.58,330.12 568.32,342.55 570.20,344.20 C572.08,345.85 573.75,338.43 575.00,335.10 C576.25,331.77 576.50,327.22 577.70,324.20 C578.90,321.18 580.38,318.97 582.20,317.00 C584.02,315.03 586.48,314.22 588.60,312.40 C590.72,310.58 592.48,307.38 594.90,306.10 C597.32,304.82 600.08,304.25 603.10,304.70 C606.12,305.15 609.83,307.67 613.00,308.80 C616.17,309.93 618.78,310.53 622.10,311.50 C625.42,312.47 628.68,313.90 632.90,314.60 C637.12,315.30 641.97,315.43 647.40,315.70 C652.83,315.97 659.47,316.05 665.50,316.20 C671.53,316.35 677.02,316.62 683.60,316.60 C690.18,316.58 701.43,316.18 705.00,316.10" fill="none" stroke="#d2232a" stroke-width="1.5"/>
<path d="M361.50,313.00 C363.03,313.63 368.08,316.60 370.70,316.80 C373.32,317.00 374.78,314.37 377.20,314.20 C379.62,314.03 382.52,315.87 385.20,315.80 C387.88,315.73 390.60,313.80 393.30,313.80 C396.00,313.80 398.98,315.58 401.40,315.80 C403.82,316.02 405.65,314.88 407.80,315.10 C409.95,315.32 411.87,316.28 414.30,317.10 C416.73,317.92 419.97,319.07 422.40,320.00 C424.83,320.93 427.02,321.57 428.90,322.70 C430.78,323.83 432.10,325.05 433.70,326.80 C435.30,328.55 436.62,331.72 438.50,333.20 C440.38,334.68 442.83,335.92 445.00,335.70 C447.17,335.48 449.08,332.90 451.50,331.90 C453.92,330.90 457.08,329.77 459.50,329.70 C461.92,329.63 464.08,330.78 466.00,331.50 C467.92,332.22 468.72,333.30 471.00,334.00 C473.28,334.70 477.17,336.90 479.70,335.70 C482.23,334.50 483.78,330.72 486.20,326.80 C488.62,322.88 491.78,315.97 494.20,312.20 C496.62,308.43 498.68,305.95 500.70,304.20 C502.72,302.45 504.42,301.43 506.30,301.70 C508.18,301.97 509.43,302.97 512.00,305.80 C514.57,308.63 518.47,315.20 521.70,318.70 C524.93,322.20 528.43,324.38 531.40,326.80 C534.37,329.22 536.53,332.07 539.50,333.20 C542.47,334.33 545.70,334.00 549.20,333.60 C552.70,333.20 557.55,330.73 560.50,330.80 C563.45,330.87 564.75,333.18 566.90,334.00 C569.05,334.82 571.72,335.48 573.40,335.70 C575.08,335.92 574.92,336.62 577.00,335.30 C579.08,333.98 583.22,330.70 585.90,327.80 C588.58,324.90 590.38,320.77 593.10,317.90 C595.82,315.03 599.48,311.52 602.20,310.60 C604.92,309.68 606.38,311.28 609.40,312.40 C612.42,313.52 616.07,315.87 620.30,317.30 C624.53,318.73 630.28,320.23 634.80,321.00 C639.32,321.77 642.28,321.60 647.40,321.90 C652.52,322.20 659.47,322.65 665.50,322.80 C671.53,322.95 677.02,322.72 683.60,322.80 C690.18,322.88 701.43,323.22 705.00,323.30" fill="none" stroke="#000" stroke-width="1.5"/>
<text x="174.3" y="74.8" font-size="12.9" fill="#fff">1 H-Bond</text>
<text x="199.6" y="113.4" font-size="12.9" fill="#fff">0 H-Bonds</text>
<text x="25.8" y="15.2" font-size="14.8" text-anchor="start" font-weight="bold" fill="#000" stroke="#000" stroke-width="0.3">A</text>
<text x="51.5" y="21.3" font-size="14.5" text-anchor="start" font-weight="normal" fill="#000" >DPPC</text>
<text x="369.8" y="15.3" font-size="14.8" text-anchor="start" font-weight="bold" fill="#000" stroke="#000" stroke-width="0.3">B</text>
<text x="393.3" y="21.5" font-size="14.5" text-anchor="start" font-weight="normal" fill="#000" >DPPS</text>
<text x="25.2" y="190.4" font-size="14.8" text-anchor="start" font-weight="bold" fill="#000" stroke="#000" stroke-width="0.3">C</text>
<text x="51.5" y="196.4" font-size="14.5" text-anchor="start" font-weight="normal" fill="#000" >DPPC</text>
<text x="369.8" y="190.4" font-size="14.8" text-anchor="start" font-weight="bold" fill="#000" stroke="#000" stroke-width="0.3">D</text>
<line x1="602.6" y1="21.8" x2="616.2" y2="21.8" stroke="#d2232a" stroke-width="1.5"/><line x1="602.6" y1="39.7" x2="616.2" y2="39.7" stroke="#000" stroke-width="1.5"/><text x="619.8" y="27.4" font-size="14.5" text-anchor="start" font-weight="normal" fill="#000" >2 mM Ca<tspan font-size="9.5" dy="-5.0">2+</tspan></text><text x="619.8" y="45.3" font-size="14.5" text-anchor="start" font-weight="normal" fill="#000" >0 mM Ca<tspan font-size="9.5" dy="-5.0">2+</tspan></text>
<line x1="258.8" y1="193.8" x2="272.40000000000003" y2="193.8" stroke="#d2232a" stroke-width="1.5"/><line x1="258.8" y1="211.70000000000002" x2="272.40000000000003" y2="211.70000000000002" stroke="#000" stroke-width="1.5"/><text x="276.3" y="199.4" font-size="14.5" text-anchor="start" font-weight="normal" fill="#000" >2 mM Ca<tspan font-size="9.5" dy="-5.0">2+</tspan></text><text x="276.3" y="217.3" font-size="14.5" text-anchor="start" font-weight="normal" fill="#000" >0 mM Ca<tspan font-size="9.5" dy="-5.0">2+</tspan></text>
<line x1="602.8" y1="194.0" x2="616.4" y2="194.0" stroke="#d2232a" stroke-width="1.5"/><line x1="602.8" y1="211.9" x2="616.4" y2="211.9" stroke="#000" stroke-width="1.5"/><text x="620.1" y="199.6" font-size="14.5" text-anchor="start" font-weight="normal" fill="#000" >2 mM Ca<tspan font-size="9.5" dy="-5.0">2+</tspan></text><text x="620.1" y="217.5" font-size="14.5" text-anchor="start" font-weight="normal" fill="#000" >0 mM Ca<tspan font-size="9.5" dy="-5.0">2+</tspan></text>
<text x="432.6" y="258.4" font-size="14.3" text-anchor="start" font-weight="normal" fill="#000" >DPPC (<tspan font-size="9.5" dy="-5.2">13</tspan><tspan dy="5.2">C)</tspan></text>
<text x="535.0" y="258.4" font-size="14.3" text-anchor="start" font-weight="normal" fill="#000" >DPPS</text>
<text x="18.1" y="361.5" font-size="13.5" text-anchor="middle" font-weight="normal" fill="#000" >1650</text>
<text x="74.5" y="361.5" font-size="13.5" text-anchor="middle" font-weight="normal" fill="#000" >1675</text>
<text x="131.0" y="361.5" font-size="13.5" text-anchor="middle" font-weight="normal" fill="#000" >1700</text>
<text x="187.8" y="361.5" font-size="13.5" text-anchor="middle" font-weight="normal" fill="#000" >1725</text>
<text x="245.9" y="361.5" font-size="13.5" text-anchor="middle" font-weight="normal" fill="#000" >1750</text>
<text x="302.4" y="361.5" font-size="13.5" text-anchor="middle" font-weight="normal" fill="#000" >1775</text>
<text x="417.3" y="361.5" font-size="13.5" text-anchor="middle" font-weight="normal" fill="#000" >1675</text>
<text x="473.8" y="361.5" font-size="13.5" text-anchor="middle" font-weight="normal" fill="#000" >1700</text>
<text x="530.1" y="361.5" font-size="13.5" text-anchor="middle" font-weight="normal" fill="#000" >1725</text>
<text x="588.4" y="361.5" font-size="13.5" text-anchor="middle" font-weight="normal" fill="#000" >1750</text>
<text x="645.7" y="361.5" font-size="13.5" text-anchor="middle" font-weight="normal" fill="#000" >1775</text>
<text x="701.9" y="361.5" font-size="13.5" text-anchor="middle" font-weight="normal" fill="#000" >1800</text>
<text x="190.6" y="380.7" font-size="13.8" text-anchor="middle" font-weight="normal" fill="#000" >frequency (cm<tspan font-size="9" dy="-5">-1</tspan><tspan dy="5">)</tspan></text>
<text x="534.3" y="380.7" font-size="13.8" text-anchor="middle" font-weight="normal" fill="#000" >frequency (cm<tspan font-size="9" dy="-5">-1</tspan><tspan dy="5">)</tspan></text>
<text x="0" y="0" font-size="13.8" text-anchor="middle" transform="translate(11.4,58.4) rotate(-90)">abs. (norm)</text>
<text x="0" y="0" font-size="13.8" text-anchor="middle" transform="translate(11.4,230.3) rotate(-90)">abs. (norm)</text>
<text x="0" y="0" font-size="13.8" text-anchor="middle" transform="translate(12.3,147.3) rotate(-90)">2<tspan font-size="9.5" dy="-5.2">nd</tspan><tspan dy="5.2"> deriv</tspan></text>
<text x="0" y="0" font-size="13.8" text-anchor="middle" transform="translate(12.5,318.5) rotate(-90)">2<tspan font-size="9.5" dy="-5.2">nd</tspan><tspan dy="5.2"> deriv</tspan></text>
<line x1="200.9" y1="25.0" x2="200.9" y2="160.5" stroke="#e02828" stroke-width="1.4" stroke-dasharray="1.5 1.4"/>
<line x1="228.6" y1="85.4" x2="228.6" y2="158.5" stroke="#2a2aff" stroke-width="1.4" stroke-dasharray="1.5 1.4"/></svg></body></html>
